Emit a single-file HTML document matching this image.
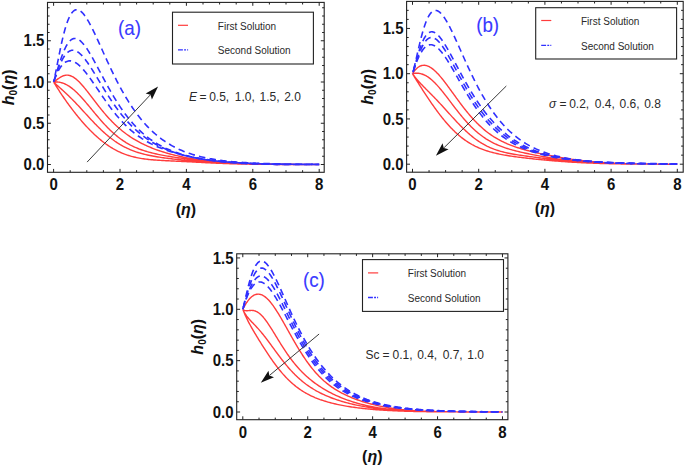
<!DOCTYPE html>
<html><head><meta charset="utf-8"><style>
html,body{margin:0;padding:0;background:#fff;}
svg{display:block;}
text{font-family:"Liberation Sans", sans-serif;}
.tl{font-size:15px;font-weight:bold;fill:#111;}
.al{font-size:16px;font-weight:bold;fill:#111;}
.pl{font-size:18.8px;fill:#3a3aff;stroke:#3a3aff;stroke-width:0.1px;}
.lg{font-size:10px;fill:#2a2a2a;}
.nt{font-size:12px;fill:#2a2a2a;}
</style></head><body>
<svg width="685" height="467" viewBox="0 0 685 467">
<rect x="47.5" y="2.4" width="276.70" height="169.90" fill="none" stroke="#222" stroke-width="1.1"/>
<path d="M53.60,172.3v-3.4M53.60,2.4v3.4M70.20,172.3v-2.1M70.20,2.4v2.1M86.80,172.3v-2.1M86.80,2.4v2.1M103.40,172.3v-2.1M103.40,2.4v2.1M120.00,172.3v-3.4M120.00,2.4v3.4M136.60,172.3v-2.1M136.60,2.4v2.1M153.20,172.3v-2.1M153.20,2.4v2.1M169.80,172.3v-2.1M169.80,2.4v2.1M186.40,172.3v-3.4M186.40,2.4v3.4M203.00,172.3v-2.1M203.00,2.4v2.1M219.60,172.3v-2.1M219.60,2.4v2.1M236.20,172.3v-2.1M236.20,2.4v2.1M252.80,172.3v-3.4M252.80,2.4v3.4M269.40,172.3v-2.1M269.40,2.4v2.1M286.00,172.3v-2.1M286.00,2.4v2.1M302.60,172.3v-2.1M302.60,2.4v2.1M319.20,172.3v-3.4M319.20,2.4v3.4M47.5,164.50h3.4M324.2,164.50h-3.4M47.5,156.25h2.1M324.2,156.25h-2.1M47.5,148.00h2.1M324.2,148.00h-2.1M47.5,139.75h2.1M324.2,139.75h-2.1M47.5,131.50h2.1M324.2,131.50h-2.1M47.5,123.25h3.4M324.2,123.25h-3.4M47.5,115.00h2.1M324.2,115.00h-2.1M47.5,106.75h2.1M324.2,106.75h-2.1M47.5,98.50h2.1M324.2,98.50h-2.1M47.5,90.25h2.1M324.2,90.25h-2.1M47.5,82.00h3.4M324.2,82.00h-3.4M47.5,73.75h2.1M324.2,73.75h-2.1M47.5,65.50h2.1M324.2,65.50h-2.1M47.5,57.25h2.1M324.2,57.25h-2.1M47.5,49.00h2.1M324.2,49.00h-2.1M47.5,40.75h3.4M324.2,40.75h-3.4M47.5,32.50h2.1M324.2,32.50h-2.1M47.5,24.25h2.1M324.2,24.25h-2.1M47.5,16.00h2.1M324.2,16.00h-2.1M47.5,7.75h2.1M324.2,7.75h-2.1" stroke="#222" stroke-width="1" fill="none"/>
<text transform="translate(53.60,190.30) scale(1,1.05)" text-anchor="middle" class="tl">0</text>
<text transform="translate(120.00,190.30) scale(1,1.05)" text-anchor="middle" class="tl">2</text>
<text transform="translate(186.40,190.30) scale(1,1.05)" text-anchor="middle" class="tl">4</text>
<text transform="translate(252.80,190.30) scale(1,1.05)" text-anchor="middle" class="tl">6</text>
<text transform="translate(319.20,190.30) scale(1,1.05)" text-anchor="middle" class="tl">8</text>
<text transform="translate(44.40,170.10) scale(1,1.05)" text-anchor="end" class="tl">0.0</text>
<text transform="translate(44.40,128.85) scale(1,1.05)" text-anchor="end" class="tl">0.5</text>
<text transform="translate(44.40,87.60) scale(1,1.05)" text-anchor="end" class="tl">1.0</text>
<text transform="translate(44.40,46.35) scale(1,1.05)" text-anchor="end" class="tl">1.5</text>
<clipPath id="clipa"><rect x="47.5" y="2.4" width="276.7" height="169.9"/></clipPath>
<g clip-path="url(#clipa)" fill="none">
<path d="M53.60,82.00L54.27,81.59L54.94,81.15L55.61,80.67L56.28,80.18L56.95,79.68L57.62,79.18L58.29,78.69L58.97,78.21L59.64,77.76L60.31,77.33L60.98,76.93L61.65,76.57L62.32,76.24L62.99,75.95L63.66,75.71L64.33,75.50L65.00,75.35L65.67,75.23L66.34,75.17L67.01,75.15L67.68,75.17L68.36,75.25L69.03,75.36L69.70,75.53L70.37,75.73L71.04,75.98L71.71,76.27L72.38,76.60L73.05,76.97L73.72,77.38L74.39,77.83L75.06,78.31L75.73,78.82L76.40,79.37L77.07,79.94L77.75,80.55L78.42,81.18L79.09,81.83L79.76,82.52L80.43,83.22L81.10,83.94L81.77,84.69L82.44,85.45L83.11,86.23L83.78,87.02L84.45,87.83L85.12,88.65L85.79,89.48L86.46,90.32L87.14,91.17L87.81,92.03L88.48,92.89L89.15,93.76L89.82,94.64L90.49,95.51L91.16,96.39L91.83,97.27L92.50,98.15L93.17,99.03L93.84,99.91L94.51,100.79L95.18,101.67L95.85,102.54L96.53,103.41L97.20,104.27L97.87,105.13L98.54,105.99L99.21,106.84L99.88,107.68L100.55,108.52L101.22,109.35L101.89,110.17L102.56,110.99L103.23,111.79L103.90,112.59L104.57,113.38L105.24,114.16L105.92,114.94L106.59,115.70L107.26,116.46L107.93,117.20L108.60,117.94L109.27,118.67L109.94,119.38L110.61,120.09L111.28,120.79L111.95,121.48L112.62,122.16L113.29,122.83L113.96,123.49L114.63,124.14L115.31,124.78L115.98,125.41L116.65,126.04L117.32,126.65L117.99,127.25L118.66,127.85L119.33,128.43L120.00,129.01L120.66,129.57L122.00,130.67L123.33,131.73L124.66,132.77L125.99,133.77L127.33,134.73L128.66,135.67L129.99,136.58L131.32,137.46L132.66,138.31L133.99,139.13L135.32,139.93L136.65,140.70L137.99,141.45L139.32,142.17L140.65,142.87L141.98,143.55L143.32,144.21L144.65,144.85L145.98,145.47L147.31,146.07L148.65,146.65L149.98,147.22L151.31,147.77L152.64,148.30L153.98,148.82L155.31,149.32L156.64,149.80L157.97,150.28L159.31,150.73L160.64,151.18L161.97,151.61L163.30,152.03L164.64,152.44L165.97,152.84L167.30,153.22L168.63,153.60L169.96,153.96L171.30,154.31L172.63,154.66L173.96,154.99L175.29,155.31L176.63,155.63L177.96,155.93L179.29,156.23L180.62,156.52L181.96,156.80L183.29,157.07L184.62,157.33L185.95,157.58L187.29,157.83L188.62,158.07L189.95,158.31L191.28,158.53L192.62,158.75L193.95,158.96L195.28,159.17L196.61,159.37L197.95,159.56L199.28,159.75L200.61,159.93L201.94,160.10L203.28,160.27L204.61,160.43L205.94,160.59L207.27,160.75L208.61,160.89L209.94,161.04L211.27,161.18L212.60,161.31L213.94,161.44L215.27,161.56L216.60,161.68L217.93,161.80L219.27,161.91L220.60,162.02L221.93,162.12L223.26,162.22L224.60,162.32L225.93,162.41L227.26,162.50L228.59,162.58L229.93,162.67L231.26,162.75L232.59,162.82L233.92,162.90L235.26,162.97L236.59,163.03L237.92,163.10L239.25,163.16L240.59,163.22L241.92,163.28L243.25,163.33L244.58,163.39L245.91,163.44L247.25,163.49L248.58,163.53L249.91,163.58L251.24,163.62L252.58,163.66L253.91,163.70L255.24,163.74L256.57,163.78L257.91,163.81L259.24,163.84L260.57,163.87L261.90,163.91L263.24,163.93L264.57,163.96L265.90,163.99L267.23,164.01L268.57,164.04L269.90,164.06L271.23,164.08L272.56,164.10L273.90,164.12L275.23,164.14L276.56,164.16L277.89,164.18L279.23,164.19L280.56,164.21L281.89,164.22L283.22,164.24L284.56,164.25L285.89,164.26L287.22,164.28L288.55,164.29L289.89,164.30L291.22,164.31L292.55,164.32L293.88,164.33L295.22,164.34L296.55,164.35L297.88,164.35L299.21,164.36L300.55,164.37L301.88,164.38L303.21,164.38L304.54,164.39L305.88,164.40L307.21,164.40L308.54,164.41L309.87,164.41L311.21,164.42L312.54,164.42L313.87,164.43L315.20,164.43L316.54,164.43L317.87,164.44L319.20,164.44M53.60,82.00L54.27,81.96L54.94,81.94L55.61,81.93L56.28,81.94L56.95,81.97L57.62,82.02L58.29,82.09L58.97,82.18L59.64,82.29L60.31,82.43L60.98,82.58L61.65,82.76L62.32,82.96L62.99,83.18L63.66,83.43L64.33,83.69L65.00,83.99L65.67,84.30L66.34,84.64L67.01,85.00L67.68,85.38L68.36,85.78L69.03,86.21L69.70,86.65L70.37,87.12L71.04,87.61L71.71,88.12L72.38,88.65L73.05,89.19L73.72,89.76L74.39,90.34L75.06,90.94L75.73,91.56L76.40,92.19L77.07,92.84L77.75,93.51L78.42,94.18L79.09,94.87L79.76,95.58L80.43,96.29L81.10,97.02L81.77,97.76L82.44,98.50L83.11,99.26L83.78,100.02L84.45,100.79L85.12,101.57L85.79,102.36L86.46,103.15L87.14,103.94L87.81,104.74L88.48,105.55L89.15,106.35L89.82,107.16L90.49,107.97L91.16,108.78L91.83,109.59L92.50,110.40L93.17,111.21L93.84,112.02L94.51,112.83L95.18,113.63L95.85,114.44L96.53,115.23L97.20,116.03L97.87,116.82L98.54,117.60L99.21,118.38L99.88,119.16L100.55,119.93L101.22,120.69L101.89,121.45L102.56,122.19L103.23,122.94L103.90,123.67L104.57,124.39L105.24,125.11L105.92,125.82L106.59,126.52L107.26,127.21L107.93,127.89L108.60,128.57L109.27,129.23L109.94,129.88L110.61,130.53L111.28,131.16L111.95,131.79L112.62,132.40L113.29,133.00L113.96,133.60L114.63,134.18L115.31,134.75L115.98,135.32L116.65,135.87L117.32,136.41L117.99,136.95L118.66,137.47L119.33,137.98L120.00,138.48L120.66,138.97L122.00,139.92L123.33,140.82L124.66,141.69L125.99,142.53L127.33,143.32L128.66,144.08L129.99,144.81L131.32,145.50L132.66,146.16L133.99,146.79L135.32,147.40L136.65,147.97L137.99,148.51L139.32,149.03L140.65,149.53L141.98,150.00L143.32,150.45L144.65,150.88L145.98,151.29L147.31,151.69L148.65,152.06L149.98,152.42L151.31,152.77L152.64,153.10L153.98,153.42L155.31,153.72L156.64,154.02L157.97,154.31L159.31,154.58L160.64,154.85L161.97,155.11L163.30,155.36L164.64,155.60L165.97,155.84L167.30,156.08L168.63,156.30L169.96,156.52L171.30,156.74L172.63,156.95L173.96,157.16L175.29,157.37L176.63,157.57L177.96,157.77L179.29,157.96L180.62,158.15L181.96,158.34L183.29,158.52L184.62,158.71L185.95,158.89L187.29,159.06L188.62,159.23L189.95,159.40L191.28,159.57L192.62,159.74L193.95,159.90L195.28,160.06L196.61,160.21L197.95,160.37L199.28,160.51L200.61,160.66L201.94,160.81L203.28,160.95L204.61,161.08L205.94,161.22L207.27,161.35L208.61,161.47L209.94,161.60L211.27,161.72L212.60,161.84L213.94,161.95L215.27,162.06L216.60,162.17L217.93,162.28L219.27,162.38L220.60,162.47L221.93,162.57L223.26,162.66L224.60,162.75L225.93,162.83L227.26,162.92L228.59,163.00L229.93,163.07L231.26,163.15L232.59,163.22L233.92,163.28L235.26,163.35L236.59,163.41L237.92,163.47L239.25,163.53L240.59,163.58L241.92,163.63L243.25,163.68L244.58,163.73L245.91,163.77L247.25,163.82L248.58,163.86L249.91,163.90L251.24,163.93L252.58,163.97L253.91,164.00L255.24,164.03L256.57,164.06L257.91,164.09L259.24,164.12L260.57,164.14L261.90,164.16L263.24,164.19L264.57,164.21L265.90,164.23L267.23,164.25L268.57,164.26L269.90,164.28L271.23,164.29L272.56,164.31L273.90,164.32L275.23,164.33L276.56,164.35L277.89,164.36L279.23,164.37L280.56,164.38L281.89,164.39L283.22,164.40L284.56,164.40L285.89,164.41L287.22,164.42L288.55,164.42L289.89,164.43L291.22,164.44L292.55,164.44L293.88,164.44L295.22,164.45L296.55,164.45L297.88,164.46L299.21,164.46L300.55,164.46L301.88,164.47L303.21,164.47L304.54,164.47L305.88,164.47L307.21,164.48L308.54,164.48L309.87,164.48L311.21,164.48L312.54,164.48L313.87,164.49L315.20,164.49L316.54,164.49L317.87,164.49L319.20,164.49M53.60,82.00L54.27,82.65L54.94,83.29L55.61,83.91L56.28,84.54L56.95,85.15L57.62,85.76L58.29,86.37L58.97,86.97L59.64,87.57L60.31,88.18L60.98,88.78L61.65,89.38L62.32,89.99L62.99,90.59L63.66,91.20L64.33,91.82L65.00,92.44L65.67,93.06L66.34,93.68L67.01,94.31L67.68,94.95L68.36,95.59L69.03,96.24L69.70,96.89L70.37,97.55L71.04,98.21L71.71,98.88L72.38,99.56L73.05,100.24L73.72,100.92L74.39,101.61L75.06,102.30L75.73,103.00L76.40,103.71L77.07,104.41L77.75,105.13L78.42,105.84L79.09,106.56L79.76,107.28L80.43,108.01L81.10,108.73L81.77,109.46L82.44,110.19L83.11,110.92L83.78,111.66L84.45,112.39L85.12,113.12L85.79,113.85L86.46,114.59L87.14,115.32L87.81,116.05L88.48,116.78L89.15,117.51L89.82,118.23L90.49,118.95L91.16,119.67L91.83,120.39L92.50,121.10L93.17,121.81L93.84,122.51L94.51,123.21L95.18,123.91L95.85,124.60L96.53,125.28L97.20,125.96L97.87,126.63L98.54,127.30L99.21,127.96L99.88,128.62L100.55,129.26L101.22,129.90L101.89,130.53L102.56,131.16L103.23,131.78L103.90,132.39L104.57,132.99L105.24,133.58L105.92,134.17L106.59,134.75L107.26,135.32L107.93,135.88L108.60,136.43L109.27,136.97L109.94,137.51L110.61,138.03L111.28,138.55L111.95,139.06L112.62,139.56L113.29,140.05L113.96,140.53L114.63,141.01L115.31,141.47L115.98,141.93L116.65,142.37L117.32,142.81L117.99,143.24L118.66,143.66L119.33,144.07L120.00,144.48L120.66,144.87L122.00,145.63L123.33,146.36L124.66,147.05L125.99,147.72L127.33,148.36L128.66,148.96L129.99,149.54L131.32,150.09L132.66,150.62L133.99,151.12L135.32,151.59L136.65,152.04L137.99,152.47L139.32,152.88L140.65,153.27L141.98,153.64L143.32,154.00L144.65,154.33L145.98,154.65L147.31,154.96L148.65,155.25L149.98,155.53L151.31,155.79L152.64,156.05L153.98,156.29L155.31,156.53L156.64,156.75L157.97,156.97L159.31,157.18L160.64,157.38L161.97,157.57L163.30,157.76L164.64,157.95L165.97,158.12L167.30,158.30L168.63,158.46L169.96,158.63L171.30,158.79L172.63,158.94L173.96,159.09L175.29,159.24L176.63,159.39L177.96,159.53L179.29,159.67L180.62,159.81L181.96,159.95L183.29,160.08L184.62,160.21L185.95,160.34L187.29,160.47L188.62,160.59L189.95,160.72L191.28,160.84L192.62,160.96L193.95,161.07L195.28,161.19L196.61,161.30L197.95,161.41L199.28,161.52L200.61,161.62L201.94,161.73L203.28,161.83L204.61,161.93L205.94,162.02L207.27,162.12L208.61,162.21L209.94,162.30L211.27,162.39L212.60,162.48L213.94,162.56L215.27,162.64L216.60,162.72L217.93,162.80L219.27,162.87L220.60,162.94L221.93,163.01L223.26,163.08L224.60,163.15L225.93,163.21L227.26,163.27L228.59,163.33L229.93,163.39L231.26,163.44L232.59,163.49L233.92,163.54L235.26,163.59L236.59,163.64L237.92,163.68L239.25,163.73L240.59,163.77L241.92,163.81L243.25,163.85L244.58,163.88L245.91,163.92L247.25,163.95L248.58,163.98L249.91,164.01L251.24,164.04L252.58,164.07L253.91,164.09L255.24,164.12L256.57,164.14L257.91,164.16L259.24,164.18L260.57,164.20L261.90,164.22L263.24,164.24L264.57,164.26L265.90,164.27L267.23,164.29L268.57,164.30L269.90,164.31L271.23,164.33L272.56,164.34L273.90,164.35L275.23,164.36L276.56,164.37L277.89,164.38L279.23,164.39L280.56,164.39L281.89,164.40L283.22,164.41L284.56,164.42L285.89,164.42L287.22,164.43L288.55,164.43L289.89,164.44L291.22,164.44L292.55,164.45L293.88,164.45L295.22,164.45L296.55,164.46L297.88,164.46L299.21,164.46L300.55,164.47L301.88,164.47L303.21,164.47L304.54,164.47L305.88,164.48L307.21,164.48L308.54,164.48L309.87,164.48L311.21,164.48L312.54,164.48L313.87,164.49L315.20,164.49L316.54,164.49L317.87,164.49L319.20,164.49M53.60,82.00L54.27,83.09L54.94,84.17L55.61,85.24L56.28,86.31L56.95,87.36L57.62,88.41L58.29,89.45L58.97,90.49L59.64,91.51L60.31,92.53L60.98,93.54L61.65,94.54L62.32,95.54L62.99,96.52L63.66,97.50L64.33,98.48L65.00,99.44L65.67,100.40L66.34,101.35L67.01,102.29L67.68,103.22L68.36,104.15L69.03,105.07L69.70,105.99L70.37,106.89L71.04,107.79L71.71,108.68L72.38,109.56L73.05,110.44L73.72,111.31L74.39,112.17L75.06,113.03L75.73,113.87L76.40,114.71L77.07,115.55L77.75,116.37L78.42,117.19L79.09,118.00L79.76,118.80L80.43,119.60L81.10,120.39L81.77,121.17L82.44,121.94L83.11,122.71L83.78,123.47L84.45,124.22L85.12,124.96L85.79,125.70L86.46,126.42L87.14,127.14L87.81,127.86L88.48,128.56L89.15,129.26L89.82,129.95L90.49,130.63L91.16,131.30L91.83,131.96L92.50,132.62L93.17,133.27L93.84,133.91L94.51,134.54L95.18,135.16L95.85,135.78L96.53,136.39L97.20,136.98L97.87,137.57L98.54,138.16L99.21,138.73L99.88,139.29L100.55,139.85L101.22,140.40L101.89,140.93L102.56,141.46L103.23,141.98L103.90,142.50L104.57,143.00L105.24,143.50L105.92,143.98L106.59,144.46L107.26,144.93L107.93,145.39L108.60,145.84L109.27,146.28L109.94,146.72L110.61,147.14L111.28,147.56L111.95,147.97L112.62,148.37L113.29,148.76L113.96,149.14L114.63,149.51L115.31,149.88L115.98,150.24L116.65,150.58L117.32,150.93L117.99,151.26L118.66,151.58L119.33,151.90L120.00,152.21L120.66,152.51L122.00,153.08L123.33,153.62L124.66,154.14L125.99,154.62L127.33,155.08L128.66,155.51L129.99,155.92L131.32,156.30L132.66,156.66L133.99,156.99L135.32,157.30L136.65,157.59L137.99,157.87L139.32,158.12L140.65,158.35L141.98,158.57L143.32,158.77L144.65,158.96L145.98,159.13L147.31,159.29L148.65,159.44L149.98,159.58L151.31,159.70L152.64,159.82L153.98,159.93L155.31,160.03L156.64,160.13L157.97,160.22L159.31,160.31L160.64,160.39L161.97,160.46L163.30,160.54L164.64,160.61L165.97,160.68L167.30,160.74L168.63,160.81L169.96,160.87L171.30,160.94L172.63,161.00L173.96,161.06L175.29,161.12L176.63,161.19L177.96,161.25L179.29,161.31L180.62,161.38L181.96,161.44L183.29,161.51L184.62,161.57L185.95,161.64L187.29,161.71L188.62,161.78L189.95,161.84L191.28,161.91L192.62,161.98L193.95,162.05L195.28,162.12L196.61,162.19L197.95,162.26L199.28,162.33L200.61,162.40L201.94,162.47L203.28,162.54L204.61,162.61L205.94,162.68L207.27,162.75L208.61,162.81L209.94,162.88L211.27,162.94L212.60,163.01L213.94,163.07L215.27,163.13L216.60,163.19L217.93,163.25L219.27,163.31L220.60,163.36L221.93,163.42L223.26,163.47L224.60,163.52L225.93,163.57L227.26,163.62L228.59,163.66L229.93,163.71L231.26,163.75L232.59,163.79L233.92,163.83L235.26,163.87L236.59,163.91L237.92,163.94L239.25,163.98L240.59,164.01L241.92,164.04L243.25,164.07L244.58,164.09L245.91,164.12L247.25,164.15L248.58,164.17L249.91,164.19L251.24,164.21L252.58,164.23L253.91,164.25L255.24,164.27L256.57,164.28L257.91,164.30L259.24,164.31L260.57,164.33L261.90,164.34L263.24,164.35L264.57,164.36L265.90,164.37L267.23,164.38L268.57,164.39L269.90,164.40L271.23,164.41L272.56,164.42L273.90,164.42L275.23,164.43L276.56,164.44L277.89,164.44L279.23,164.45L280.56,164.45L281.89,164.46L283.22,164.46L284.56,164.46L285.89,164.47L287.22,164.47L288.55,164.47L289.89,164.47L291.22,164.48L292.55,164.48L293.88,164.48L295.22,164.48L296.55,164.48L297.88,164.49L299.21,164.49L300.55,164.49L301.88,164.49L303.21,164.49L304.54,164.49L305.88,164.49L307.21,164.49L308.54,164.49L309.87,164.49L311.21,164.50L312.54,164.50L313.87,164.50L315.20,164.50L316.54,164.50L317.87,164.50L319.20,164.50" stroke="#ff3c3c" stroke-width="1.4"/>
<path d="M53.60,82.00L54.27,79.06L54.94,75.93L55.61,72.67L56.28,69.31L56.95,65.89L57.62,62.46L58.29,59.03L58.97,55.63L59.64,52.29L60.31,49.02L60.98,45.84L61.65,42.77L62.32,39.81L62.99,36.97L63.66,34.26L64.33,31.69L65.00,29.26L65.67,26.98L66.34,24.85L67.01,22.86L67.68,21.02L68.36,19.33L69.03,17.79L69.70,16.39L70.37,15.14L71.04,14.02L71.71,13.05L72.38,12.20L73.05,11.49L73.72,10.90L74.39,10.44L75.06,10.09L75.73,9.86L76.40,9.73L77.07,9.71L77.75,9.79L78.42,9.97L79.09,10.24L79.76,10.60L80.43,11.04L81.10,11.56L81.77,12.16L82.44,12.83L83.11,13.57L83.78,14.37L84.45,15.23L85.12,16.14L85.79,17.11L86.46,18.13L87.14,19.20L87.81,20.31L88.48,21.46L89.15,22.65L89.82,23.87L90.49,25.13L91.16,26.41L91.83,27.72L92.50,29.06L93.17,30.42L93.84,31.80L94.51,33.20L95.18,34.61L95.85,36.04L96.53,37.48L97.20,38.93L97.87,40.39L98.54,41.85L99.21,43.33L99.88,44.81L100.55,46.29L101.22,47.77L101.89,49.26L102.56,50.74L103.23,52.23L103.90,53.71L104.57,55.19L105.24,56.67L105.92,58.14L106.59,59.60L107.26,61.06L107.93,62.51L108.60,63.96L109.27,65.39L109.94,66.82L110.61,68.24L111.28,69.65L111.95,71.05L112.62,72.44L113.29,73.81L113.96,75.18L114.63,76.53L115.31,77.88L115.98,79.21L116.65,80.52L117.32,81.83L117.99,83.12L118.66,84.40L119.33,85.67L120.00,86.92L120.66,88.14L122.00,90.57L123.33,92.93L124.66,95.24L125.99,97.50L127.33,99.70L128.66,101.85L129.99,103.94L131.32,105.97L132.66,107.95L133.99,109.88L135.32,111.75L136.65,113.57L137.99,115.34L139.32,117.06L140.65,118.72L141.98,120.34L143.32,121.91L144.65,123.43L145.98,124.91L147.31,126.33L148.65,127.72L149.98,129.06L151.31,130.35L152.64,131.61L153.98,132.82L155.31,134.00L156.64,135.13L157.97,136.23L159.31,137.29L160.64,138.31L161.97,139.30L163.30,140.26L164.64,141.18L165.97,142.07L167.30,142.93L168.63,143.76L169.96,144.56L171.30,145.34L172.63,146.08L173.96,146.80L175.29,147.49L176.63,148.16L177.96,148.80L179.29,149.42L180.62,150.01L181.96,150.59L183.29,151.14L184.62,151.67L185.95,152.18L187.29,152.68L188.62,153.15L189.95,153.61L191.28,154.05L192.62,154.47L193.95,154.87L195.28,155.26L196.61,155.64L197.95,156.00L199.28,156.35L200.61,156.68L201.94,157.00L203.28,157.31L204.61,157.60L205.94,157.89L207.27,158.16L208.61,158.42L209.94,158.67L211.27,158.91L212.60,159.14L213.94,159.37L215.27,159.58L216.60,159.78L217.93,159.98L219.27,160.17L220.60,160.35L221.93,160.52L223.26,160.69L224.60,160.85L225.93,161.00L227.26,161.15L228.59,161.29L229.93,161.42L231.26,161.55L232.59,161.68L233.92,161.79L235.26,161.91L236.59,162.02L237.92,162.12L239.25,162.22L240.59,162.32L241.92,162.41L243.25,162.50L244.58,162.58L245.91,162.67L247.25,162.74L248.58,162.82L249.91,162.89L251.24,162.96L252.58,163.02L253.91,163.08L255.24,163.14L256.57,163.20L257.91,163.26L259.24,163.31L260.57,163.36L261.90,163.41L263.24,163.45L264.57,163.50L265.90,163.54L267.23,163.58L268.57,163.62L269.90,163.66L271.23,163.69L272.56,163.73L273.90,163.76L275.23,163.79L276.56,163.82L277.89,163.85L279.23,163.88L280.56,163.90L281.89,163.93L283.22,163.95L284.56,163.98L285.89,164.00L287.22,164.02L288.55,164.04L289.89,164.06L291.22,164.08L292.55,164.10L293.88,164.11L295.22,164.13L296.55,164.15L297.88,164.16L299.21,164.17L300.55,164.19L301.88,164.20L303.21,164.21L304.54,164.23L305.88,164.24L307.21,164.25L308.54,164.26L309.87,164.27L311.21,164.28L312.54,164.29L313.87,164.30L315.20,164.30L316.54,164.31L317.87,164.32L319.20,164.33" stroke="#3030ff" stroke-width="1.6" stroke-dasharray="6.5,4.3" stroke-dashoffset="4.36"/>
<path d="M53.60,82.00L54.27,80.02L54.94,77.95L55.61,75.81L56.28,73.63L56.95,71.43L57.62,69.23L58.29,67.05L58.97,64.90L59.64,62.79L60.31,60.74L60.98,58.75L61.65,56.83L62.32,55.00L62.99,53.25L63.66,51.60L64.33,50.03L65.00,48.57L65.67,47.20L66.34,45.94L67.01,44.78L67.68,43.72L68.36,42.76L69.03,41.90L69.70,41.15L70.37,40.49L71.04,39.93L71.71,39.46L72.38,39.09L73.05,38.81L73.72,38.62L74.39,38.51L75.06,38.49L75.73,38.55L76.40,38.68L77.07,38.89L77.75,39.18L78.42,39.53L79.09,39.94L79.76,40.42L80.43,40.96L81.10,41.56L81.77,42.21L82.44,42.92L83.11,43.67L83.78,44.47L84.45,45.31L85.12,46.19L85.79,47.11L86.46,48.07L87.14,49.06L87.81,50.08L88.48,51.14L89.15,52.21L89.82,53.31L90.49,54.44L91.16,55.59L91.83,56.75L92.50,57.93L93.17,59.13L93.84,60.34L94.51,61.56L95.18,62.79L95.85,64.03L96.53,65.28L97.20,66.54L97.87,67.79L98.54,69.06L99.21,70.32L99.88,71.59L100.55,72.86L101.22,74.12L101.89,75.39L102.56,76.65L103.23,77.91L103.90,79.16L104.57,80.41L105.24,81.66L105.92,82.89L106.59,84.12L107.26,85.35L107.93,86.56L108.60,87.77L109.27,88.96L109.94,90.15L110.61,91.33L111.28,92.49L111.95,93.65L112.62,94.79L113.29,95.93L113.96,97.05L114.63,98.16L115.31,99.26L115.98,100.34L116.65,101.42L117.32,102.48L117.99,103.53L118.66,104.56L119.33,105.59L120.00,106.60L120.66,107.58L122.00,109.52L123.33,111.41L124.66,113.25L125.99,115.03L127.33,116.77L128.66,118.45L129.99,120.08L131.32,121.66L132.66,123.19L133.99,124.67L135.32,126.11L136.65,127.50L137.99,128.84L139.32,130.14L140.65,131.39L141.98,132.60L143.32,133.77L144.65,134.90L145.98,135.99L147.31,137.04L148.65,138.06L149.98,139.04L151.31,139.98L152.64,140.89L153.98,141.77L155.31,142.61L156.64,143.43L157.97,144.22L159.31,144.97L160.64,145.70L161.97,146.40L163.30,147.08L164.64,147.73L165.97,148.36L167.30,148.97L168.63,149.55L169.96,150.11L171.30,150.65L172.63,151.17L173.96,151.67L175.29,152.15L176.63,152.62L177.96,153.06L179.29,153.49L180.62,153.91L181.96,154.31L183.29,154.69L184.62,155.06L185.95,155.42L187.29,155.76L188.62,156.09L189.95,156.41L191.28,156.72L192.62,157.02L193.95,157.30L195.28,157.58L196.61,157.84L197.95,158.10L199.28,158.34L200.61,158.58L201.94,158.81L203.28,159.03L204.61,159.24L205.94,159.45L207.27,159.64L208.61,159.83L209.94,160.02L211.27,160.20L212.60,160.37L213.94,160.53L215.27,160.69L216.60,160.85L217.93,161.00L219.27,161.14L220.60,161.28L221.93,161.41L223.26,161.54L224.60,161.67L225.93,161.79L227.26,161.90L228.59,162.02L229.93,162.13L231.26,162.23L232.59,162.33L233.92,162.43L235.26,162.53L236.59,162.62L237.92,162.71L239.25,162.80L240.59,162.88L241.92,162.96L243.25,163.04L244.58,163.11L245.91,163.19L247.25,163.26L248.58,163.33L249.91,163.39L251.24,163.46L252.58,163.52L253.91,163.58L255.24,163.64L256.57,163.70L257.91,163.75L259.24,163.80L260.57,163.85L261.90,163.90L263.24,163.95L264.57,164.00L265.90,164.04L267.23,164.09L268.57,164.13L269.90,164.17L271.23,164.21L272.56,164.24L273.90,164.28L275.23,164.31L276.56,164.34L277.89,164.38L279.23,164.41L280.56,164.43L281.89,164.46L283.22,164.49L284.56,164.50L285.89,164.50L287.22,164.50L288.55,164.50L289.89,164.50L291.22,164.50L292.55,164.50L293.88,164.50L295.22,164.50L296.55,164.50L297.88,164.50L299.21,164.50L300.55,164.50L301.88,164.50L303.21,164.50L304.54,164.50L305.88,164.50L307.21,164.50L308.54,164.50L309.87,164.50L311.21,164.50L312.54,164.50L313.87,164.50L315.20,164.50L316.54,164.50L317.87,164.50L319.20,164.48" stroke="#3030ff" stroke-width="1.6" stroke-dasharray="6.5,4.3" stroke-dashoffset="9.66"/>
<path d="M53.60,82.00L54.27,79.94L54.94,77.91L55.61,75.91L56.28,73.97L56.95,72.08L57.62,70.26L58.29,68.50L58.97,66.81L59.64,65.20L60.31,63.66L60.98,62.20L61.65,60.83L62.32,59.54L62.99,58.34L63.66,57.22L64.33,56.19L65.00,55.24L65.67,54.38L66.34,53.61L67.01,52.91L67.68,52.31L68.36,51.78L69.03,51.33L69.70,50.96L70.37,50.67L71.04,50.45L71.71,50.31L72.38,50.24L73.05,50.23L73.72,50.30L74.39,50.42L75.06,50.61L75.73,50.86L76.40,51.17L77.07,51.53L77.75,51.95L78.42,52.41L79.09,52.93L79.76,53.49L80.43,54.09L81.10,54.74L81.77,55.42L82.44,56.15L83.11,56.91L83.78,57.70L84.45,58.52L85.12,59.37L85.79,60.25L86.46,61.16L87.14,62.09L87.81,63.04L88.48,64.01L89.15,65.01L89.82,66.01L90.49,67.04L91.16,68.08L91.83,69.13L92.50,70.19L93.17,71.26L93.84,72.34L94.51,73.43L95.18,74.52L95.85,75.62L96.53,76.73L97.20,77.84L97.87,78.94L98.54,80.06L99.21,81.17L99.88,82.28L100.55,83.39L101.22,84.49L101.89,85.60L102.56,86.70L103.23,87.79L103.90,88.89L104.57,89.97L105.24,91.05L105.92,92.13L106.59,93.19L107.26,94.25L107.93,95.31L108.60,96.35L109.27,97.39L109.94,98.41L110.61,99.43L111.28,100.44L111.95,101.44L112.62,102.43L113.29,103.41L113.96,104.37L114.63,105.33L115.31,106.28L115.98,107.22L116.65,108.14L117.32,109.06L117.99,109.96L118.66,110.85L119.33,111.74L120.00,112.61L120.66,113.46L122.00,115.13L123.33,116.76L124.66,118.35L125.99,119.89L127.33,121.38L128.66,122.84L129.99,124.25L131.32,125.61L132.66,126.94L133.99,128.23L135.32,129.47L136.65,130.68L137.99,131.85L139.32,132.98L140.65,134.08L141.98,135.14L143.32,136.16L144.65,137.15L145.98,138.11L147.31,139.04L148.65,139.94L149.98,140.81L151.31,141.64L152.64,142.45L153.98,143.24L155.31,143.99L156.64,144.73L157.97,145.43L159.31,146.12L160.64,146.78L161.97,147.41L163.30,148.03L164.64,148.62L165.97,149.20L167.30,149.75L168.63,150.29L169.96,150.81L171.30,151.31L172.63,151.79L173.96,152.26L175.29,152.71L176.63,153.14L177.96,153.57L179.29,153.97L180.62,154.36L181.96,154.74L183.29,155.11L184.62,155.46L185.95,155.80L187.29,156.13L188.62,156.45L189.95,156.75L191.28,157.05L192.62,157.33L193.95,157.61L195.28,157.87L196.61,158.13L197.95,158.38L199.28,158.62L200.61,158.84L201.94,159.07L203.28,159.28L204.61,159.49L205.94,159.68L207.27,159.88L208.61,160.06L209.94,160.24L211.27,160.41L212.60,160.57L213.94,160.73L215.27,160.89L216.60,161.03L217.93,161.18L219.27,161.31L220.60,161.44L221.93,161.57L223.26,161.69L224.60,161.81L225.93,161.92L227.26,162.03L228.59,162.13L229.93,162.23L231.26,162.33L232.59,162.42L233.92,162.51L235.26,162.60L236.59,162.68L237.92,162.76L239.25,162.83L240.59,162.91L241.92,162.98L243.25,163.04L244.58,163.11L245.91,163.17L247.25,163.23L248.58,163.29L249.91,163.34L251.24,163.39L252.58,163.44L253.91,163.49L255.24,163.54L256.57,163.58L257.91,163.62L259.24,163.66L260.57,163.70L261.90,163.74L263.24,163.77L264.57,163.81L265.90,163.84L267.23,163.87L268.57,163.90L269.90,163.93L271.23,163.95L272.56,163.98L273.90,164.01L275.23,164.03L276.56,164.05L277.89,164.07L279.23,164.09L280.56,164.11L281.89,164.13L283.22,164.15L284.56,164.17L285.89,164.18L287.22,164.20L288.55,164.21L289.89,164.23L291.22,164.24L292.55,164.25L293.88,164.27L295.22,164.28L296.55,164.29L297.88,164.30L299.21,164.31L300.55,164.32L301.88,164.33L303.21,164.34L304.54,164.35L305.88,164.35L307.21,164.36L308.54,164.37L309.87,164.37L311.21,164.38L312.54,164.39L313.87,164.39L315.20,164.40L316.54,164.40L317.87,164.41L319.20,164.41" stroke="#3030ff" stroke-width="1.6" stroke-dasharray="6.5,4.3" stroke-dashoffset="10.33"/>
<path d="M53.60,82.00L54.27,80.11L54.94,78.33L55.61,76.64L56.28,75.05L56.95,73.56L57.62,72.17L58.29,70.86L58.97,69.65L59.64,68.52L60.31,67.48L60.98,66.53L61.65,65.66L62.32,64.86L62.99,64.15L63.66,63.51L64.33,62.94L65.00,62.45L65.67,62.02L66.34,61.67L67.01,61.38L67.68,61.15L68.36,60.99L69.03,60.88L69.70,60.84L70.37,60.85L71.04,60.91L71.71,61.03L72.38,61.20L73.05,61.42L73.72,61.68L74.39,61.99L75.06,62.34L75.73,62.74L76.40,63.17L77.07,63.65L77.75,64.16L78.42,64.70L79.09,65.28L79.76,65.89L80.43,66.53L81.10,67.20L81.77,67.90L82.44,68.63L83.11,69.38L83.78,70.15L84.45,70.94L85.12,71.76L85.79,72.59L86.46,73.44L87.14,74.31L87.81,75.19L88.48,76.09L89.15,77.00L89.82,77.92L90.49,78.86L91.16,79.80L91.83,80.75L92.50,81.71L93.17,82.68L93.84,83.66L94.51,84.63L95.18,85.62L95.85,86.60L96.53,87.59L97.20,88.58L97.87,89.57L98.54,90.56L99.21,91.55L99.88,92.54L100.55,93.53L101.22,94.52L101.89,95.50L102.56,96.48L103.23,97.45L103.90,98.42L104.57,99.39L105.24,100.35L105.92,101.30L106.59,102.25L107.26,103.19L107.93,104.12L108.60,105.04L109.27,105.96L109.94,106.87L110.61,107.77L111.28,108.66L111.95,109.54L112.62,110.42L113.29,111.28L113.96,112.13L114.63,112.98L115.31,113.81L115.98,114.64L116.65,115.45L117.32,116.25L117.99,117.04L118.66,117.83L119.33,118.60L120.00,119.36L120.66,120.10L122.00,121.56L123.33,122.97L124.66,124.34L125.99,125.67L127.33,126.96L128.66,128.21L129.99,129.41L131.32,130.58L132.66,131.70L133.99,132.79L135.32,133.84L136.65,134.85L137.99,135.83L139.32,136.77L140.65,137.68L141.98,138.56L143.32,139.40L144.65,140.22L145.98,141.00L147.31,141.76L148.65,142.50L149.98,143.20L151.31,143.89L152.64,144.54L153.98,145.18L155.31,145.80L156.64,146.39L157.97,146.97L159.31,147.53L160.64,148.07L161.97,148.59L163.30,149.10L164.64,149.59L165.97,150.07L167.30,150.53L168.63,150.98L169.96,151.42L171.30,151.84L172.63,152.26L173.96,152.66L175.29,153.05L176.63,153.44L177.96,153.81L179.29,154.17L180.62,154.52L181.96,154.87L183.29,155.20L184.62,155.53L185.95,155.85L187.29,156.16L188.62,156.46L189.95,156.76L191.28,157.04L192.62,157.32L193.95,157.60L195.28,157.86L196.61,158.12L197.95,158.37L199.28,158.62L200.61,158.86L201.94,159.09L203.28,159.32L204.61,159.54L205.94,159.75L207.27,159.95L208.61,160.15L209.94,160.35L211.27,160.54L212.60,160.72L213.94,160.89L215.27,161.06L216.60,161.23L217.93,161.39L219.27,161.54L220.60,161.69L221.93,161.83L223.26,161.97L224.60,162.10L225.93,162.23L227.26,162.35L228.59,162.47L229.93,162.58L231.26,162.68L232.59,162.79L233.92,162.89L235.26,162.98L236.59,163.07L237.92,163.16L239.25,163.24L240.59,163.32L241.92,163.39L243.25,163.46L244.58,163.53L245.91,163.59L247.25,163.65L248.58,163.71L249.91,163.76L251.24,163.81L252.58,163.86L253.91,163.91L255.24,163.95L256.57,163.99L257.91,164.03L259.24,164.06L260.57,164.10L261.90,164.13L263.24,164.16L264.57,164.19L265.90,164.21L267.23,164.24L268.57,164.26L269.90,164.28L271.23,164.30L272.56,164.32L273.90,164.33L275.23,164.35L276.56,164.36L277.89,164.38L279.23,164.39L280.56,164.40L281.89,164.41L283.22,164.42L284.56,164.43L285.89,164.44L287.22,164.45L288.55,164.45L289.89,164.46L291.22,164.46L292.55,164.47L293.88,164.47L295.22,164.48L296.55,164.48L297.88,164.48L299.21,164.49L300.55,164.49L301.88,164.49L303.21,164.49L304.54,164.50L305.88,164.50L307.21,164.50L308.54,164.50L309.87,164.50L311.21,164.50L312.54,164.50L313.87,164.50L315.20,164.50L316.54,164.50L317.87,164.50L319.20,164.50" stroke="#3030ff" stroke-width="1.6" stroke-dasharray="6.5,4.3" stroke-dashoffset="9.54"/>
</g>
<line x1="87.1" y1="162.1" x2="150.15" y2="95.05" stroke="#3a3a3a" stroke-width="1.0"/>
<path d="M158.1,86.6L151.92,99.45L150.50,94.69L145.65,93.56Z" fill="#111"/>
<text x="185.85" y="215.00" text-anchor="middle" class="al">(<tspan font-style="italic">η</tspan>)</text>
<text transform="translate(13.50,87.35) rotate(-90)" text-anchor="middle" class="al"><tspan font-style="italic">h</tspan><tspan font-size="10" dy="3">0</tspan><tspan dy="-3">(</tspan><tspan font-style="italic">η</tspan>)</text>
<text transform="translate(129.55,35.05) scale(1,1.085)" text-anchor="middle" class="pl">(a)</text>
<rect x="172.5" y="12.2" width="140.90" height="51.80" fill="#fff" stroke="#222" stroke-width="1.1"/>
<line x1="178" y1="25.3" x2="188" y2="25.3" stroke="#ff3c3c" stroke-width="1.2"/>
<path d="M178,49.9h4.9M184.1,49.9h1.9M187.1,49.9h1" stroke="#3030ff" stroke-width="1.3"/>
<text x="217.8" y="29.60" class="lg">First Solution</text>
<text x="217.8" y="54.20" class="lg">Second Solution</text>
<text x="189.1" y="100.5" class="nt" font-style="italic">E</text>
<text x="199.6" y="100.5" class="nt">=</text>
<text x="209.2" y="100.5" class="nt">0.5,</text>
<text x="234.8" y="100.5" class="nt">1.0,</text>
<text x="259.5" y="100.5" class="nt">1.5,</text>
<text x="284.2" y="100.5" class="nt">2.0</text>
<rect x="406.6" y="1.4" width="276.60" height="170.80" fill="none" stroke="#222" stroke-width="1.1"/>
<path d="M412.50,172.2v-3.4M412.50,1.4v3.4M429.05,172.2v-2.1M429.05,1.4v2.1M445.60,172.2v-2.1M445.60,1.4v2.1M462.15,172.2v-2.1M462.15,1.4v2.1M478.70,172.2v-3.4M478.70,1.4v3.4M495.25,172.2v-2.1M495.25,1.4v2.1M511.80,172.2v-2.1M511.80,1.4v2.1M528.35,172.2v-2.1M528.35,1.4v2.1M544.90,172.2v-3.4M544.90,1.4v3.4M561.45,172.2v-2.1M561.45,1.4v2.1M578.00,172.2v-2.1M578.00,1.4v2.1M594.55,172.2v-2.1M594.55,1.4v2.1M611.10,172.2v-3.4M611.10,1.4v3.4M627.65,172.2v-2.1M627.65,1.4v2.1M644.20,172.2v-2.1M644.20,1.4v2.1M660.75,172.2v-2.1M660.75,1.4v2.1M677.30,172.2v-3.4M677.30,1.4v3.4M406.6,164.20h3.4M683.2,164.20h-3.4M406.6,155.15h2.1M683.2,155.15h-2.1M406.6,146.10h2.1M683.2,146.10h-2.1M406.6,137.05h2.1M683.2,137.05h-2.1M406.6,128.00h2.1M683.2,128.00h-2.1M406.6,118.95h3.4M683.2,118.95h-3.4M406.6,109.90h2.1M683.2,109.90h-2.1M406.6,100.85h2.1M683.2,100.85h-2.1M406.6,91.80h2.1M683.2,91.80h-2.1M406.6,82.75h2.1M683.2,82.75h-2.1M406.6,73.70h3.4M683.2,73.70h-3.4M406.6,64.65h2.1M683.2,64.65h-2.1M406.6,55.60h2.1M683.2,55.60h-2.1M406.6,46.55h2.1M683.2,46.55h-2.1M406.6,37.50h2.1M683.2,37.50h-2.1M406.6,28.45h3.4M683.2,28.45h-3.4M406.6,19.40h2.1M683.2,19.40h-2.1M406.6,10.35h2.1M683.2,10.35h-2.1" stroke="#222" stroke-width="1" fill="none"/>
<text transform="translate(412.50,190.20) scale(1,1.05)" text-anchor="middle" class="tl">0</text>
<text transform="translate(478.70,190.20) scale(1,1.05)" text-anchor="middle" class="tl">2</text>
<text transform="translate(544.90,190.20) scale(1,1.05)" text-anchor="middle" class="tl">4</text>
<text transform="translate(611.10,190.20) scale(1,1.05)" text-anchor="middle" class="tl">6</text>
<text transform="translate(677.30,190.20) scale(1,1.05)" text-anchor="middle" class="tl">8</text>
<text transform="translate(403.50,169.80) scale(1,1.05)" text-anchor="end" class="tl">0.0</text>
<text transform="translate(403.50,124.55) scale(1,1.05)" text-anchor="end" class="tl">0.5</text>
<text transform="translate(403.50,79.30) scale(1,1.05)" text-anchor="end" class="tl">1.0</text>
<text transform="translate(403.50,34.05) scale(1,1.05)" text-anchor="end" class="tl">1.5</text>
<clipPath id="clipb"><rect x="406.6" y="1.4" width="276.6" height="170.79999999999998"/></clipPath>
<g clip-path="url(#clipb)" fill="none">
<path d="M412.50,73.70L413.17,72.68L413.84,71.73L414.51,70.85L415.17,70.04L415.84,69.31L416.51,68.64L417.18,68.04L417.85,67.50L418.52,67.02L419.19,66.61L419.86,66.25L420.52,65.96L421.19,65.72L421.86,65.54L422.53,65.40L423.20,65.33L423.87,65.30L424.54,65.32L425.21,65.39L425.87,65.51L426.54,65.67L427.21,65.87L427.88,66.12L428.55,66.40L429.22,66.73L429.89,67.09L430.55,67.48L431.22,67.92L431.89,68.38L432.56,68.88L433.23,69.41L433.90,69.97L434.57,70.55L435.24,71.16L435.90,71.80L436.57,72.46L437.24,73.15L437.91,73.85L438.58,74.58L439.25,75.32L439.92,76.09L440.58,76.87L441.25,77.67L441.92,78.48L442.59,79.31L443.26,80.15L443.93,81.00L444.60,81.86L445.27,82.73L445.93,83.62L446.60,84.51L447.27,85.40L447.94,86.31L448.61,87.21L449.28,88.13L449.95,89.05L450.62,89.97L451.28,90.89L451.95,91.82L452.62,92.74L453.29,93.67L453.96,94.60L454.63,95.52L455.30,96.45L455.96,97.37L456.63,98.29L457.30,99.21L457.97,100.12L458.64,101.03L459.31,101.93L459.98,102.83L460.65,103.73L461.31,104.62L461.98,105.50L462.65,106.37L463.32,107.24L463.99,108.10L464.66,108.96L465.33,109.80L465.99,110.64L466.66,111.47L467.33,112.29L468.00,113.10L468.67,113.90L469.34,114.69L470.01,115.48L470.68,116.25L471.34,117.01L472.01,117.77L472.68,118.51L473.35,119.24L474.02,119.97L474.69,120.68L475.36,121.38L476.03,122.08L476.69,122.76L477.36,123.43L478.03,124.09L478.70,124.74L479.36,125.37L480.69,126.61L482.02,127.81L483.35,128.97L484.68,130.09L486.00,131.17L487.33,132.21L488.66,133.21L489.99,134.17L491.32,135.10L492.65,135.99L493.97,136.85L495.30,137.67L496.63,138.46L497.96,139.23L499.29,139.96L500.62,140.66L501.95,141.34L503.27,141.99L504.60,142.61L505.93,143.21L507.26,143.79L508.59,144.35L509.92,144.88L511.24,145.40L512.57,145.90L513.90,146.38L515.23,146.84L516.56,147.29L517.89,147.73L519.22,148.15L520.54,148.56L521.87,148.96L523.20,149.35L524.53,149.72L525.86,150.09L527.19,150.45L528.51,150.79L529.84,151.13L531.17,151.47L532.50,151.79L533.83,152.11L535.16,152.42L536.49,152.73L537.81,153.03L539.14,153.33L540.47,153.62L541.80,153.91L543.13,154.19L544.46,154.46L545.78,154.73L547.11,155.00L548.44,155.27L549.77,155.53L551.10,155.78L552.43,156.03L553.75,156.28L555.08,156.52L556.41,156.76L557.74,157.00L559.07,157.23L560.40,157.46L561.73,157.68L563.05,157.90L564.38,158.11L565.71,158.33L567.04,158.53L568.37,158.74L569.70,158.93L571.02,159.13L572.35,159.32L573.68,159.51L575.01,159.69L576.34,159.86L577.67,160.04L579.00,160.21L580.32,160.37L581.65,160.53L582.98,160.69L584.31,160.84L585.64,160.98L586.97,161.13L588.29,161.26L589.62,161.40L590.95,161.53L592.28,161.65L593.61,161.77L594.94,161.89L596.26,162.00L597.59,162.11L598.92,162.22L600.25,162.32L601.58,162.42L602.91,162.51L604.24,162.60L605.56,162.69L606.89,162.77L608.22,162.85L609.55,162.92L610.88,163.00L612.21,163.07L613.53,163.13L614.86,163.20L616.19,163.26L617.52,163.31L618.85,163.37L620.18,163.42L621.51,163.47L622.83,163.52L624.16,163.56L625.49,163.60L626.82,163.64L628.15,163.68L629.48,163.71L630.80,163.75L632.13,163.78L633.46,163.81L634.79,163.84L636.12,163.86L637.45,163.89L638.78,163.91L640.10,163.93L641.43,163.96L642.76,163.97L644.09,163.99L645.42,164.01L646.75,164.02L648.07,164.04L649.40,164.05L650.73,164.07L652.06,164.08L653.39,164.09L654.72,164.10L656.04,164.11L657.37,164.12L658.70,164.12L660.03,164.13L661.36,164.14L662.69,164.14L664.02,164.15L665.34,164.16L666.67,164.16L668.00,164.17L669.33,164.17L670.66,164.17L671.99,164.18L673.31,164.18L674.64,164.18L675.97,164.18L677.30,164.19M412.50,73.70L413.17,73.57L413.84,73.46L414.51,73.37L415.17,73.30L415.84,73.25L416.51,73.23L417.18,73.24L417.85,73.27L418.52,73.32L419.19,73.40L419.86,73.51L420.52,73.65L421.19,73.81L421.86,74.00L422.53,74.22L423.20,74.47L423.87,74.74L424.54,75.04L425.21,75.37L425.87,75.73L426.54,76.11L427.21,76.51L427.88,76.95L428.55,77.40L429.22,77.89L429.89,78.39L430.55,78.92L431.22,79.48L431.89,80.05L432.56,80.65L433.23,81.27L433.90,81.90L434.57,82.56L435.24,83.24L435.90,83.93L436.57,84.64L437.24,85.37L437.91,86.11L438.58,86.87L439.25,87.64L439.92,88.42L440.58,89.22L441.25,90.02L441.92,90.84L442.59,91.67L443.26,92.51L443.93,93.35L444.60,94.20L445.27,95.06L445.93,95.92L446.60,96.79L447.27,97.66L447.94,98.54L448.61,99.42L449.28,100.30L449.95,101.18L450.62,102.07L451.28,102.95L451.95,103.83L452.62,104.71L453.29,105.59L453.96,106.47L454.63,107.34L455.30,108.21L455.96,109.07L456.63,109.93L457.30,110.79L457.97,111.64L458.64,112.48L459.31,113.32L459.98,114.15L460.65,114.97L461.31,115.79L461.98,116.59L462.65,117.39L463.32,118.18L463.99,118.96L464.66,119.73L465.33,120.49L465.99,121.25L466.66,121.99L467.33,122.72L468.00,123.44L468.67,124.15L469.34,124.85L470.01,125.54L470.68,126.22L471.34,126.89L472.01,127.55L472.68,128.19L473.35,128.83L474.02,129.45L474.69,130.06L475.36,130.67L476.03,131.26L476.69,131.84L477.36,132.40L478.03,132.96L478.70,133.51L479.36,134.04L480.69,135.07L482.02,136.06L483.35,137.01L484.68,137.92L486.00,138.79L487.33,139.62L488.66,140.42L489.99,141.18L491.32,141.91L492.65,142.60L493.97,143.26L495.30,143.90L496.63,144.50L497.96,145.08L499.29,145.63L500.62,146.16L501.95,146.67L503.27,147.15L504.60,147.62L505.93,148.07L507.26,148.50L508.59,148.91L509.92,149.31L511.24,149.69L512.57,150.06L513.90,150.42L515.23,150.77L516.56,151.11L517.89,151.44L519.22,151.76L520.54,152.07L521.87,152.38L523.20,152.68L524.53,152.97L525.86,153.25L527.19,153.54L528.51,153.81L529.84,154.08L531.17,154.35L532.50,154.61L533.83,154.87L535.16,155.12L536.49,155.38L537.81,155.62L539.14,155.87L540.47,156.11L541.80,156.35L543.13,156.58L544.46,156.81L545.78,157.04L547.11,157.26L548.44,157.48L549.77,157.70L551.10,157.91L552.43,158.12L553.75,158.33L555.08,158.53L556.41,158.73L557.74,158.93L559.07,159.12L560.40,159.31L561.73,159.49L563.05,159.67L564.38,159.85L565.71,160.02L567.04,160.18L568.37,160.35L569.70,160.51L571.02,160.66L572.35,160.81L573.68,160.96L575.01,161.10L576.34,161.24L577.67,161.37L579.00,161.50L580.32,161.62L581.65,161.75L582.98,161.86L584.31,161.97L585.64,162.08L586.97,162.19L588.29,162.29L589.62,162.39L590.95,162.48L592.28,162.57L593.61,162.65L594.94,162.74L596.26,162.81L597.59,162.89L598.92,162.96L600.25,163.03L601.58,163.10L602.91,163.16L604.24,163.22L605.56,163.28L606.89,163.33L608.22,163.38L609.55,163.43L610.88,163.48L612.21,163.52L613.53,163.56L614.86,163.60L616.19,163.64L617.52,163.68L618.85,163.71L620.18,163.74L621.51,163.77L622.83,163.80L624.16,163.82L625.49,163.85L626.82,163.87L628.15,163.90L629.48,163.92L630.80,163.94L632.13,163.95L633.46,163.97L634.79,163.99L636.12,164.00L637.45,164.02L638.78,164.03L640.10,164.04L641.43,164.05L642.76,164.07L644.09,164.08L645.42,164.08L646.75,164.09L648.07,164.10L649.40,164.11L650.73,164.12L652.06,164.12L653.39,164.13L654.72,164.13L656.04,164.14L657.37,164.14L658.70,164.15L660.03,164.15L661.36,164.16L662.69,164.16L664.02,164.16L665.34,164.17L666.67,164.17L668.00,164.17L669.33,164.17L670.66,164.18L671.99,164.18L673.31,164.18L674.64,164.18L675.97,164.18L677.30,164.19M412.50,73.70L413.17,74.63L413.84,75.54L414.51,76.41L415.17,77.27L415.84,78.10L416.51,78.91L417.18,79.70L417.85,80.48L418.52,81.24L419.19,81.98L419.86,82.72L420.52,83.44L421.19,84.15L421.86,84.85L422.53,85.55L423.20,86.24L423.87,86.92L424.54,87.60L425.21,88.28L425.87,88.95L426.54,89.62L427.21,90.29L427.88,90.96L428.55,91.63L429.22,92.30L429.89,92.98L430.55,93.65L431.22,94.32L431.89,95.00L432.56,95.68L433.23,96.37L433.90,97.05L434.57,97.74L435.24,98.43L435.90,99.13L436.57,99.83L437.24,100.53L437.91,101.24L438.58,101.95L439.25,102.67L439.92,103.38L440.58,104.10L441.25,104.83L441.92,105.55L442.59,106.28L443.26,107.01L443.93,107.75L444.60,108.48L445.27,109.22L445.93,109.96L446.60,110.70L447.27,111.44L447.94,112.18L448.61,112.92L449.28,113.66L449.95,114.40L450.62,115.14L451.28,115.88L451.95,116.62L452.62,117.35L453.29,118.09L453.96,118.81L454.63,119.54L455.30,120.26L455.96,120.98L456.63,121.70L457.30,122.41L457.97,123.12L458.64,123.82L459.31,124.52L459.98,125.21L460.65,125.89L461.31,126.57L461.98,127.24L462.65,127.91L463.32,128.56L463.99,129.21L464.66,129.86L465.33,130.49L465.99,131.12L466.66,131.74L467.33,132.35L468.00,132.95L468.67,133.55L469.34,134.13L470.01,134.71L470.68,135.27L471.34,135.83L472.01,136.38L472.68,136.92L473.35,137.45L474.02,137.97L474.69,138.48L475.36,138.98L476.03,139.47L476.69,139.95L477.36,140.42L478.03,140.88L478.70,141.33L479.36,141.77L480.69,142.62L482.02,143.43L483.35,144.20L484.68,144.94L486.00,145.64L487.33,146.31L488.66,146.94L489.99,147.54L491.32,148.11L492.65,148.65L493.97,149.16L495.30,149.64L496.63,150.09L497.96,150.52L499.29,150.93L500.62,151.31L501.95,151.68L503.27,152.02L504.60,152.35L505.93,152.65L507.26,152.95L508.59,153.23L509.92,153.49L511.24,153.75L512.57,153.99L513.90,154.22L515.23,154.45L516.56,154.66L517.89,154.87L519.22,155.08L520.54,155.28L521.87,155.47L523.20,155.66L524.53,155.85L525.86,156.03L527.19,156.21L528.51,156.39L529.84,156.57L531.17,156.74L532.50,156.92L533.83,157.09L535.16,157.26L536.49,157.43L537.81,157.60L539.14,157.77L540.47,157.94L541.80,158.11L543.13,158.28L544.46,158.45L545.78,158.61L547.11,158.78L548.44,158.94L549.77,159.11L551.10,159.27L552.43,159.43L553.75,159.59L555.08,159.74L556.41,159.90L557.74,160.05L559.07,160.20L560.40,160.35L561.73,160.50L563.05,160.64L564.38,160.78L565.71,160.92L567.04,161.06L568.37,161.19L569.70,161.32L571.02,161.44L572.35,161.57L573.68,161.69L575.01,161.80L576.34,161.91L577.67,162.02L579.00,162.13L580.32,162.23L581.65,162.33L582.98,162.42L584.31,162.52L585.64,162.61L586.97,162.69L588.29,162.77L589.62,162.85L590.95,162.93L592.28,163.00L593.61,163.07L594.94,163.13L596.26,163.20L597.59,163.26L598.92,163.31L600.25,163.37L601.58,163.42L602.91,163.47L604.24,163.51L605.56,163.56L606.89,163.60L608.22,163.64L609.55,163.68L610.88,163.71L612.21,163.74L613.53,163.78L614.86,163.81L616.19,163.83L617.52,163.86L618.85,163.88L620.18,163.91L621.51,163.93L622.83,163.95L624.16,163.97L625.49,163.98L626.82,164.00L628.15,164.02L629.48,164.03L630.80,164.04L632.13,164.06L633.46,164.07L634.79,164.08L636.12,164.09L637.45,164.10L638.78,164.11L640.10,164.11L641.43,164.12L642.76,164.13L644.09,164.13L645.42,164.14L646.75,164.14L648.07,164.15L649.40,164.15L650.73,164.16L652.06,164.16L653.39,164.16L654.72,164.17L656.04,164.17L657.37,164.17L658.70,164.18L660.03,164.18L661.36,164.18L662.69,164.18L664.02,164.18L665.34,164.19L666.67,164.19L668.00,164.19L669.33,164.19L670.66,164.19L671.99,164.19L673.31,164.19L674.64,164.19L675.97,164.19L677.30,164.19M412.50,73.70L413.17,74.82L413.84,75.93L414.51,77.03L415.17,78.12L415.84,79.21L416.51,80.29L417.18,81.36L417.85,82.43L418.52,83.50L419.19,84.55L419.86,85.61L420.52,86.66L421.19,87.70L421.86,88.74L422.53,89.77L423.20,90.81L423.87,91.83L424.54,92.86L425.21,93.87L425.87,94.89L426.54,95.90L427.21,96.90L427.88,97.90L428.55,98.89L429.22,99.88L429.89,100.87L430.55,101.84L431.22,102.81L431.89,103.78L432.56,104.74L433.23,105.69L433.90,106.64L434.57,107.58L435.24,108.51L435.90,109.43L436.57,110.35L437.24,111.26L437.91,112.16L438.58,113.05L439.25,113.93L439.92,114.81L440.58,115.67L441.25,116.53L441.92,117.38L442.59,118.22L443.26,119.04L443.93,119.86L444.60,120.67L445.27,121.47L445.93,122.25L446.60,123.03L447.27,123.80L447.94,124.55L448.61,125.30L449.28,126.03L449.95,126.75L450.62,127.47L451.28,128.17L451.95,128.86L452.62,129.54L453.29,130.20L453.96,130.86L454.63,131.51L455.30,132.14L455.96,132.76L456.63,133.37L457.30,133.98L457.97,134.56L458.64,135.14L459.31,135.71L459.98,136.27L460.65,136.81L461.31,137.35L461.98,137.87L462.65,138.38L463.32,138.89L463.99,139.38L464.66,139.86L465.33,140.33L465.99,140.79L466.66,141.24L467.33,141.69L468.00,142.12L468.67,142.54L469.34,142.95L470.01,143.35L470.68,143.75L471.34,144.13L472.01,144.51L472.68,144.87L473.35,145.23L474.02,145.58L474.69,145.92L475.36,146.26L476.03,146.58L476.69,146.90L477.36,147.21L478.03,147.51L478.70,147.80L479.36,148.09L480.69,148.64L482.02,149.16L483.35,149.65L484.68,150.13L486.00,150.58L487.33,151.01L488.66,151.41L489.99,151.80L491.32,152.17L492.65,152.52L493.97,152.86L495.30,153.18L496.63,153.48L497.96,153.78L499.29,154.06L500.62,154.32L501.95,154.58L503.27,154.83L504.60,155.07L505.93,155.30L507.26,155.52L508.59,155.74L509.92,155.94L511.24,156.14L512.57,156.34L513.90,156.53L515.23,156.71L516.56,156.90L517.89,157.07L519.22,157.24L520.54,157.41L521.87,157.58L523.20,157.74L524.53,157.90L525.86,158.06L527.19,158.21L528.51,158.36L529.84,158.51L531.17,158.66L532.50,158.80L533.83,158.94L535.16,159.08L536.49,159.22L537.81,159.36L539.14,159.49L540.47,159.62L541.80,159.75L543.13,159.88L544.46,160.01L545.78,160.13L547.11,160.26L548.44,160.38L549.77,160.50L551.10,160.61L552.43,160.73L553.75,160.84L555.08,160.95L556.41,161.06L557.74,161.17L559.07,161.27L560.40,161.37L561.73,161.47L563.05,161.57L564.38,161.66L565.71,161.76L567.04,161.85L568.37,161.94L569.70,162.02L571.02,162.11L572.35,162.19L573.68,162.27L575.01,162.35L576.34,162.42L577.67,162.49L579.00,162.57L580.32,162.63L581.65,162.70L582.98,162.77L584.31,162.83L585.64,162.89L586.97,162.95L588.29,163.00L589.62,163.06L590.95,163.11L592.28,163.16L593.61,163.21L594.94,163.26L596.26,163.30L597.59,163.35L598.92,163.39L600.25,163.43L601.58,163.47L602.91,163.50L604.24,163.54L605.56,163.57L606.89,163.60L608.22,163.64L609.55,163.66L610.88,163.69L612.21,163.72L613.53,163.75L614.86,163.77L616.19,163.79L617.52,163.82L618.85,163.84L620.18,163.86L621.51,163.88L622.83,163.90L624.16,163.91L625.49,163.93L626.82,163.95L628.15,163.96L629.48,163.97L630.80,163.99L632.13,164.00L633.46,164.01L634.79,164.02L636.12,164.03L637.45,164.05L638.78,164.05L640.10,164.06L641.43,164.07L642.76,164.08L644.09,164.09L645.42,164.10L646.75,164.10L648.07,164.11L649.40,164.11L650.73,164.12L652.06,164.13L653.39,164.13L654.72,164.13L656.04,164.14L657.37,164.14L658.70,164.15L660.03,164.15L661.36,164.15L662.69,164.16L664.02,164.16L665.34,164.16L666.67,164.17L668.00,164.17L669.33,164.17L670.66,164.17L671.99,164.17L673.31,164.18L674.64,164.18L675.97,164.18L677.30,164.18" stroke="#ff3c3c" stroke-width="1.4"/>
<path d="M412.50,73.70L413.17,71.32L413.84,68.74L414.51,66.02L415.17,63.19L415.84,60.28L416.51,57.33L417.18,54.37L417.85,51.42L418.52,48.50L419.19,45.64L419.86,42.83L420.52,40.11L421.19,37.48L421.86,34.95L422.53,32.53L423.20,30.22L423.87,28.04L424.54,25.98L425.21,24.05L425.87,22.26L426.54,20.59L427.21,19.06L427.88,17.66L428.55,16.39L429.22,15.25L429.89,14.23L430.55,13.35L431.22,12.59L431.89,11.94L432.56,11.42L433.23,11.01L433.90,10.71L434.57,10.52L435.24,10.44L435.90,10.45L436.57,10.56L437.24,10.76L437.91,11.06L438.58,11.43L439.25,11.89L439.92,12.43L440.58,13.04L441.25,13.72L441.92,14.46L442.59,15.27L443.26,16.14L443.93,17.07L444.60,18.04L445.27,19.07L445.93,20.15L446.60,21.26L447.27,22.42L447.94,23.62L448.61,24.85L449.28,26.12L449.95,27.41L450.62,28.74L451.28,30.08L451.95,31.46L452.62,32.85L453.29,34.26L453.96,35.69L454.63,37.13L455.30,38.58L455.96,40.05L456.63,41.53L457.30,43.01L457.97,44.50L458.64,46.00L459.31,47.50L459.98,49.00L460.65,50.50L461.31,52.01L461.98,53.51L462.65,55.01L463.32,56.51L463.99,58.00L464.66,59.49L465.33,60.97L465.99,62.45L466.66,63.91L467.33,65.38L468.00,66.83L468.67,68.27L469.34,69.71L470.01,71.13L470.68,72.54L471.34,73.94L472.01,75.33L472.68,76.71L473.35,78.08L474.02,79.43L474.69,80.77L475.36,82.10L476.03,83.41L476.69,84.71L477.36,86.00L478.03,87.27L478.70,88.53L479.36,89.76L480.69,92.19L482.02,94.56L483.35,96.87L484.68,99.12L486.00,101.32L487.33,103.46L488.66,105.54L489.99,107.56L491.32,109.52L492.65,111.43L493.97,113.28L495.30,115.07L496.63,116.82L497.96,118.50L499.29,120.14L500.62,121.73L501.95,123.26L503.27,124.75L504.60,126.18L505.93,127.57L507.26,128.92L508.59,130.22L509.92,131.48L511.24,132.69L512.57,133.86L513.90,135.00L515.23,136.09L516.56,137.15L517.89,138.17L519.22,139.15L520.54,140.10L521.87,141.01L523.20,141.90L524.53,142.75L525.86,143.57L527.19,144.36L528.51,145.12L529.84,145.86L531.17,146.56L532.50,147.25L533.83,147.90L535.16,148.53L536.49,149.14L537.81,149.73L539.14,150.29L540.47,150.84L541.80,151.36L543.13,151.86L544.46,152.34L545.78,152.81L547.11,153.26L548.44,153.69L549.77,154.10L551.10,154.50L552.43,154.88L553.75,155.25L555.08,155.61L556.41,155.95L557.74,156.27L559.07,156.59L560.40,156.89L561.73,157.18L563.05,157.46L564.38,157.73L565.71,157.99L567.04,158.23L568.37,158.47L569.70,158.70L571.02,158.92L572.35,159.13L573.68,159.33L575.01,159.53L576.34,159.71L577.67,159.89L579.00,160.07L580.32,160.23L581.65,160.39L582.98,160.54L584.31,160.69L585.64,160.83L586.97,160.96L588.29,161.09L589.62,161.22L590.95,161.34L592.28,161.45L593.61,161.56L594.94,161.67L596.26,161.77L597.59,161.87L598.92,161.96L600.25,162.05L601.58,162.14L602.91,162.22L604.24,162.30L605.56,162.37L606.89,162.45L608.22,162.52L609.55,162.58L610.88,162.65L612.21,162.71L613.53,162.77L614.86,162.83L616.19,162.88L617.52,162.93L618.85,162.98L620.18,163.03L621.51,163.08L622.83,163.12L624.16,163.17L625.49,163.21L626.82,163.25L628.15,163.28L629.48,163.32L630.80,163.35L632.13,163.39L633.46,163.42L634.79,163.45L636.12,163.48L637.45,163.51L638.78,163.54L640.10,163.56L641.43,163.59L642.76,163.61L644.09,163.63L645.42,163.66L646.75,163.68L648.07,163.70L649.40,163.72L650.73,163.74L652.06,163.75L653.39,163.77L654.72,163.79L656.04,163.80L657.37,163.82L658.70,163.83L660.03,163.85L661.36,163.86L662.69,163.87L664.02,163.89L665.34,163.90L666.67,163.91L668.00,163.92L669.33,163.93L670.66,163.94L671.99,163.95L673.31,163.96L674.64,163.97L675.97,163.98L677.30,163.99" stroke="#3030ff" stroke-width="1.6" stroke-dasharray="6.5,4.3" stroke-dashoffset="6.33"/>
<path d="M412.50,73.70L413.17,71.54L413.84,69.28L414.51,66.93L415.17,64.55L415.84,62.16L416.51,59.79L417.18,57.45L417.85,55.17L418.52,52.97L419.19,50.84L419.86,48.81L420.52,46.88L421.19,45.07L421.86,43.36L422.53,41.77L423.20,40.31L423.87,38.96L424.54,37.74L425.21,36.64L425.87,35.65L426.54,34.79L427.21,34.04L427.88,33.41L428.55,32.88L429.22,32.46L429.89,32.15L430.55,31.94L431.22,31.82L431.89,31.80L432.56,31.86L433.23,32.01L433.90,32.24L434.57,32.55L435.24,32.93L435.90,33.38L436.57,33.89L437.24,34.47L437.91,35.11L438.58,35.80L439.25,36.55L439.92,37.34L440.58,38.18L441.25,39.06L441.92,39.98L442.59,40.94L443.26,41.93L443.93,42.95L444.60,44.00L445.27,45.08L445.93,46.18L446.60,47.30L447.27,48.45L447.94,49.61L448.61,50.79L449.28,51.98L449.95,53.19L450.62,54.41L451.28,55.63L451.95,56.87L452.62,58.11L453.29,59.36L453.96,60.61L454.63,61.87L455.30,63.12L455.96,64.38L456.63,65.64L457.30,66.90L457.97,68.15L458.64,69.41L459.31,70.66L459.98,71.90L460.65,73.14L461.31,74.38L461.98,75.61L462.65,76.84L463.32,78.05L463.99,79.26L464.66,80.47L465.33,81.66L465.99,82.85L466.66,84.02L467.33,85.19L468.00,86.35L468.67,87.50L469.34,88.64L470.01,89.77L470.68,90.89L471.34,91.99L472.01,93.09L472.68,94.18L473.35,95.25L474.02,96.31L474.69,97.37L475.36,98.41L476.03,99.44L476.69,100.45L477.36,101.46L478.03,102.45L478.70,103.44L479.36,104.40L480.69,106.29L482.02,108.14L483.35,109.94L484.68,111.70L486.00,113.41L487.33,115.07L488.66,116.69L489.99,118.27L491.32,119.80L492.65,121.29L493.97,122.73L495.30,124.14L496.63,125.50L497.96,126.82L499.29,128.10L500.62,129.35L501.95,130.55L503.27,131.72L504.60,132.85L505.93,133.95L507.26,135.01L508.59,136.04L509.92,137.03L511.24,137.99L512.57,138.92L513.90,139.82L515.23,140.69L516.56,141.53L517.89,142.34L519.22,143.13L520.54,143.89L521.87,144.62L523.20,145.33L524.53,146.01L525.86,146.67L527.19,147.31L528.51,147.92L529.84,148.51L531.17,149.08L532.50,149.64L533.83,150.17L535.16,150.68L536.49,151.18L537.81,151.65L539.14,152.11L540.47,152.55L541.80,152.98L543.13,153.39L544.46,153.79L545.78,154.17L547.11,154.54L548.44,154.89L549.77,155.24L551.10,155.56L552.43,155.88L553.75,156.19L555.08,156.48L556.41,156.76L557.74,157.04L559.07,157.30L560.40,157.55L561.73,157.79L563.05,158.03L564.38,158.25L565.71,158.47L567.04,158.68L568.37,158.88L569.70,159.07L571.02,159.26L572.35,159.44L573.68,159.61L575.01,159.78L576.34,159.94L577.67,160.09L579.00,160.24L580.32,160.38L581.65,160.52L582.98,160.65L584.31,160.78L585.64,160.90L586.97,161.02L588.29,161.13L589.62,161.24L590.95,161.34L592.28,161.44L593.61,161.54L594.94,161.64L596.26,161.73L597.59,161.81L598.92,161.90L600.25,161.98L601.58,162.05L602.91,162.13L604.24,162.20L605.56,162.27L606.89,162.33L608.22,162.40L609.55,162.46L610.88,162.52L612.21,162.58L613.53,162.63L614.86,162.68L616.19,162.74L617.52,162.78L618.85,162.83L620.18,162.88L621.51,162.92L622.83,162.96L624.16,163.00L625.49,163.04L626.82,163.08L628.15,163.12L629.48,163.15L630.80,163.19L632.13,163.22L633.46,163.25L634.79,163.28L636.12,163.31L637.45,163.34L638.78,163.37L640.10,163.39L641.43,163.42L642.76,163.44L644.09,163.47L645.42,163.49L646.75,163.51L648.07,163.53L649.40,163.55L650.73,163.57L652.06,163.59L653.39,163.61L654.72,163.63L656.04,163.64L657.37,163.66L658.70,163.68L660.03,163.69L661.36,163.71L662.69,163.72L664.02,163.74L665.34,163.75L666.67,163.76L668.00,163.77L669.33,163.79L670.66,163.80L671.99,163.81L673.31,163.82L674.64,163.83L675.97,163.84L677.30,163.85" stroke="#3030ff" stroke-width="1.6" stroke-dasharray="6.5,4.3" stroke-dashoffset="9.08"/>
<path d="M412.50,73.70L413.17,71.70L413.84,69.64L414.51,67.56L415.17,65.47L415.84,63.40L416.51,61.35L417.18,59.35L417.85,57.40L418.52,55.52L419.19,53.71L419.86,51.98L420.52,50.34L421.19,48.80L421.86,47.35L422.53,45.99L423.20,44.74L423.87,43.59L424.54,42.55L425.21,41.60L425.87,40.76L426.54,40.02L427.21,39.39L427.88,38.85L428.55,38.40L429.22,38.05L429.89,37.79L430.55,37.63L431.22,37.54L431.89,37.55L432.56,37.63L433.23,37.79L433.90,38.03L434.57,38.33L435.24,38.71L435.90,39.15L436.57,39.66L437.24,40.22L437.91,40.84L438.58,41.51L439.25,42.23L439.92,43.00L440.58,43.82L441.25,44.68L441.92,45.57L442.59,46.51L443.26,47.47L443.93,48.47L444.60,49.50L445.27,50.56L445.93,51.64L446.60,52.74L447.27,53.86L447.94,55.01L448.61,56.17L449.28,57.34L449.95,58.53L450.62,59.73L451.28,60.94L451.95,62.16L452.62,63.39L453.29,64.62L453.96,65.85L454.63,67.10L455.30,68.34L455.96,69.58L456.63,70.82L457.30,72.07L457.97,73.31L458.64,74.55L459.31,75.78L459.98,77.01L460.65,78.24L461.31,79.46L461.98,80.67L462.65,81.88L463.32,83.08L463.99,84.27L464.66,85.45L465.33,86.62L465.99,87.79L466.66,88.94L467.33,90.09L468.00,91.22L468.67,92.34L469.34,93.46L470.01,94.56L470.68,95.65L471.34,96.73L472.01,97.79L472.68,98.85L473.35,99.89L474.02,100.92L474.69,101.94L475.36,102.95L476.03,103.94L476.69,104.92L477.36,105.89L478.03,106.85L478.70,107.79L479.36,108.71L480.69,110.53L482.02,112.29L483.35,114.01L484.68,115.67L486.00,117.30L487.33,118.87L488.66,120.40L489.99,121.88L491.32,123.31L492.65,124.71L493.97,126.05L495.30,127.36L496.63,128.63L497.96,129.86L499.29,131.04L500.62,132.19L501.95,133.30L503.27,134.38L504.60,135.42L505.93,136.43L507.26,137.40L508.59,138.34L509.92,139.25L511.24,140.13L512.57,140.98L513.90,141.80L515.23,142.59L516.56,143.36L517.89,144.10L519.22,144.81L520.54,145.50L521.87,146.17L523.20,146.81L524.53,147.43L525.86,148.03L527.19,148.61L528.51,149.17L529.84,149.71L531.17,150.23L532.50,150.74L533.83,151.22L535.16,151.69L536.49,152.14L537.81,152.57L539.14,152.99L540.47,153.40L541.80,153.79L543.13,154.17L544.46,154.53L545.78,154.88L547.11,155.22L548.44,155.55L549.77,155.86L551.10,156.16L552.43,156.46L553.75,156.74L555.08,157.01L556.41,157.27L557.74,157.52L559.07,157.77L560.40,158.00L561.73,158.23L563.05,158.45L564.38,158.66L565.71,158.86L567.04,159.05L568.37,159.24L569.70,159.42L571.02,159.60L572.35,159.77L573.68,159.93L575.01,160.09L576.34,160.24L577.67,160.38L579.00,160.52L580.32,160.66L581.65,160.79L582.98,160.91L584.31,161.03L585.64,161.15L586.97,161.26L588.29,161.37L589.62,161.47L590.95,161.57L592.28,161.67L593.61,161.76L594.94,161.85L596.26,161.93L597.59,162.02L598.92,162.10L600.25,162.17L601.58,162.25L602.91,162.32L604.24,162.39L605.56,162.45L606.89,162.52L608.22,162.58L609.55,162.64L610.88,162.69L612.21,162.75L613.53,162.80L614.86,162.85L616.19,162.90L617.52,162.95L618.85,162.99L620.18,163.04L621.51,163.08L622.83,163.12L624.16,163.16L625.49,163.20L626.82,163.23L628.15,163.27L629.48,163.30L630.80,163.33L632.13,163.36L633.46,163.39L634.79,163.42L636.12,163.45L637.45,163.48L638.78,163.50L640.10,163.53L641.43,163.55L642.76,163.57L644.09,163.60L645.42,163.62L646.75,163.64L648.07,163.66L649.40,163.68L650.73,163.70L652.06,163.71L653.39,163.73L654.72,163.75L656.04,163.76L657.37,163.78L658.70,163.79L660.03,163.81L661.36,163.82L662.69,163.84L664.02,163.85L665.34,163.86L666.67,163.87L668.00,163.88L669.33,163.89L670.66,163.90L671.99,163.92L673.31,163.92L674.64,163.93L675.97,163.94L677.30,163.95" stroke="#3030ff" stroke-width="1.6" stroke-dasharray="6.5,4.3" stroke-dashoffset="8.16"/>
<path d="M412.50,73.70L413.17,71.61L413.84,69.58L414.51,67.62L415.17,65.73L415.84,63.91L416.51,62.17L417.18,60.51L417.85,58.93L418.52,57.44L419.19,56.02L419.86,54.70L420.52,53.45L421.19,52.29L421.86,51.22L422.53,50.23L423.20,49.33L423.87,48.51L424.54,47.78L425.21,47.12L425.87,46.55L426.54,46.06L427.21,45.64L427.88,45.31L428.55,45.04L429.22,44.85L429.89,44.74L430.55,44.69L431.22,44.71L431.89,44.79L432.56,44.94L433.23,45.15L433.90,45.42L434.57,45.75L435.24,46.13L435.90,46.57L436.57,47.05L437.24,47.59L437.91,48.17L438.58,48.80L439.25,49.47L439.92,50.18L440.58,50.94L441.25,51.72L441.92,52.55L442.59,53.40L443.26,54.29L443.93,55.21L444.60,56.15L445.27,57.12L445.93,58.11L446.60,59.13L447.27,60.16L447.94,61.22L448.61,62.29L449.28,63.38L449.95,64.49L450.62,65.60L451.28,66.73L451.95,67.87L452.62,69.02L453.29,70.17L453.96,71.34L454.63,72.50L455.30,73.68L455.96,74.85L456.63,76.03L457.30,77.21L457.97,78.39L458.64,79.57L459.31,80.75L459.98,81.92L460.65,83.09L461.31,84.26L461.98,85.43L462.65,86.59L463.32,87.74L463.99,88.89L464.66,90.03L465.33,91.16L465.99,92.29L466.66,93.41L467.33,94.51L468.00,95.61L468.67,96.70L469.34,97.78L470.01,98.85L470.68,99.91L471.34,100.96L472.01,102.00L472.68,103.02L473.35,104.03L474.02,105.04L474.69,106.03L475.36,107.00L476.03,107.97L476.69,108.92L477.36,109.86L478.03,110.79L478.70,111.71L479.36,112.60L480.69,114.36L482.02,116.06L483.35,117.72L484.68,119.33L486.00,120.89L487.33,122.39L488.66,123.85L489.99,125.27L491.32,126.63L492.65,127.95L493.97,129.23L495.30,130.46L496.63,131.65L497.96,132.79L499.29,133.90L500.62,134.97L501.95,136.00L503.27,136.99L504.60,137.95L505.93,138.87L507.26,139.76L508.59,140.62L509.92,141.44L511.24,142.24L512.57,143.00L513.90,143.74L515.23,144.46L516.56,145.14L517.89,145.81L519.22,146.44L520.54,147.06L521.87,147.65L523.20,148.22L524.53,148.78L525.86,149.31L527.19,149.82L528.51,150.32L529.84,150.80L531.17,151.26L532.50,151.71L533.83,152.14L535.16,152.56L536.49,152.96L537.81,153.35L539.14,153.72L540.47,154.09L541.80,154.44L543.13,154.78L544.46,155.11L545.78,155.42L547.11,155.73L548.44,156.03L549.77,156.32L551.10,156.59L552.43,156.86L553.75,157.12L555.08,157.38L556.41,157.62L557.74,157.86L559.07,158.08L560.40,158.31L561.73,158.52L563.05,158.73L564.38,158.93L565.71,159.12L567.04,159.31L568.37,159.49L569.70,159.67L571.02,159.84L572.35,160.00L573.68,160.16L575.01,160.31L576.34,160.46L577.67,160.61L579.00,160.75L580.32,160.88L581.65,161.01L582.98,161.14L584.31,161.26L585.64,161.37L586.97,161.49L588.29,161.60L589.62,161.70L590.95,161.80L592.28,161.90L593.61,162.00L594.94,162.09L596.26,162.18L597.59,162.26L598.92,162.34L600.25,162.42L601.58,162.50L602.91,162.57L604.24,162.64L605.56,162.71L606.89,162.77L608.22,162.83L609.55,162.89L610.88,162.95L612.21,163.01L613.53,163.06L614.86,163.11L616.19,163.16L617.52,163.21L618.85,163.25L620.18,163.30L621.51,163.34L622.83,163.38L624.16,163.42L625.49,163.46L626.82,163.49L628.15,163.52L629.48,163.56L630.80,163.59L632.13,163.62L633.46,163.65L634.79,163.67L636.12,163.70L637.45,163.72L638.78,163.75L640.10,163.77L641.43,163.79L642.76,163.81L644.09,163.83L645.42,163.85L646.75,163.87L648.07,163.88L649.40,163.90L650.73,163.92L652.06,163.93L653.39,163.94L654.72,163.96L656.04,163.97L657.37,163.98L658.70,163.99L660.03,164.01L661.36,164.02L662.69,164.03L664.02,164.04L665.34,164.04L666.67,164.05L668.00,164.06L669.33,164.07L670.66,164.08L671.99,164.08L673.31,164.09L674.64,164.10L675.97,164.10L677.30,164.11" stroke="#3030ff" stroke-width="1.6" stroke-dasharray="6.5,4.3" stroke-dashoffset="9.20"/>
</g>
<line x1="506.3" y1="86" x2="444.14" y2="147.63" stroke="#3a3a3a" stroke-width="1.0"/>
<path d="M435.9,155.8L442.53,143.17L443.78,147.98L448.59,149.28Z" fill="#111"/>
<text x="544.90" y="214.40" text-anchor="middle" class="al">(<tspan font-style="italic">η</tspan>)</text>
<text transform="translate(372.80,86.80) rotate(-90)" text-anchor="middle" class="al"><tspan font-style="italic">h</tspan><tspan font-size="10" dy="3">0</tspan><tspan dy="-3">(</tspan><tspan font-style="italic">η</tspan>)</text>
<text transform="translate(487.65,31.90) scale(1,1.085)" text-anchor="middle" class="pl">(b)</text>
<rect x="535.7" y="7.7" width="140.90" height="51.30" fill="#fff" stroke="#222" stroke-width="1.1"/>
<line x1="541.2" y1="20.5" x2="551.3" y2="20.5" stroke="#ff3c3c" stroke-width="1.2"/>
<path d="M541.2,45.3h4.9M547.3000000000001,45.3h1.9M550.3000000000001,45.3h1" stroke="#3030ff" stroke-width="1.3"/>
<text x="581" y="24.80" class="lg">First Solution</text>
<text x="581" y="49.60" class="lg">Second Solution</text>
<text x="549.1" y="108.1" class="nt" font-style="italic">σ</text>
<text x="559.6" y="108.1" class="nt">=</text>
<text x="569.2" y="108.1" class="nt">0.2,</text>
<text x="594.8" y="108.1" class="nt">0.4,</text>
<text x="619.5" y="108.1" class="nt">0.6,</text>
<text x="644.2" y="108.1" class="nt">0.8</text>
<rect x="236.7" y="253.8" width="271.20" height="165.90" fill="none" stroke="#222" stroke-width="1.1"/>
<path d="M242.80,419.7v-3.4M242.80,253.8v3.4M259.03,419.7v-2.1M259.03,253.8v2.1M275.26,419.7v-2.1M275.26,253.8v2.1M291.49,419.7v-2.1M291.49,253.8v2.1M307.72,419.7v-3.4M307.72,253.8v3.4M323.95,419.7v-2.1M323.95,253.8v2.1M340.18,419.7v-2.1M340.18,253.8v2.1M356.41,419.7v-2.1M356.41,253.8v2.1M372.64,419.7v-3.4M372.64,253.8v3.4M388.87,419.7v-2.1M388.87,253.8v2.1M405.10,419.7v-2.1M405.10,253.8v2.1M421.33,419.7v-2.1M421.33,253.8v2.1M437.56,419.7v-3.4M437.56,253.8v3.4M453.79,419.7v-2.1M453.79,253.8v2.1M470.02,419.7v-2.1M470.02,253.8v2.1M486.25,419.7v-2.1M486.25,253.8v2.1M502.48,419.7v-3.4M502.48,253.8v3.4M236.7,412.00h3.4M507.9,412.00h-3.4M236.7,401.73h2.1M507.9,401.73h-2.1M236.7,391.46h2.1M507.9,391.46h-2.1M236.7,381.19h2.1M507.9,381.19h-2.1M236.7,370.92h2.1M507.9,370.92h-2.1M236.7,360.65h3.4M507.9,360.65h-3.4M236.7,350.38h2.1M507.9,350.38h-2.1M236.7,340.11h2.1M507.9,340.11h-2.1M236.7,329.84h2.1M507.9,329.84h-2.1M236.7,319.57h2.1M507.9,319.57h-2.1M236.7,309.30h3.4M507.9,309.30h-3.4M236.7,299.03h2.1M507.9,299.03h-2.1M236.7,288.76h2.1M507.9,288.76h-2.1M236.7,278.49h2.1M507.9,278.49h-2.1M236.7,268.22h2.1M507.9,268.22h-2.1M236.7,257.95h3.4M507.9,257.95h-3.4" stroke="#222" stroke-width="1" fill="none"/>
<text transform="translate(242.80,437.70) scale(1,1.05)" text-anchor="middle" class="tl">0</text>
<text transform="translate(307.72,437.70) scale(1,1.05)" text-anchor="middle" class="tl">2</text>
<text transform="translate(372.64,437.70) scale(1,1.05)" text-anchor="middle" class="tl">4</text>
<text transform="translate(437.56,437.70) scale(1,1.05)" text-anchor="middle" class="tl">6</text>
<text transform="translate(502.48,437.70) scale(1,1.05)" text-anchor="middle" class="tl">8</text>
<text transform="translate(233.60,417.60) scale(1,1.05)" text-anchor="end" class="tl">0.0</text>
<text transform="translate(233.60,366.25) scale(1,1.05)" text-anchor="end" class="tl">0.5</text>
<text transform="translate(233.60,314.90) scale(1,1.05)" text-anchor="end" class="tl">1.0</text>
<text transform="translate(233.60,263.55) scale(1,1.05)" text-anchor="end" class="tl">1.5</text>
<clipPath id="clipc"><rect x="236.7" y="253.8" width="271.2" height="165.89999999999998"/></clipPath>
<g clip-path="url(#clipc)" fill="none">
<path d="M242.80,309.30L243.46,308.03L244.11,306.82L244.77,305.65L245.42,304.55L246.08,303.49L246.73,302.49L247.39,301.55L248.05,300.66L248.70,299.83L249.36,299.06L250.01,298.34L250.67,297.68L251.32,297.08L251.98,296.54L252.64,296.05L253.29,295.62L253.95,295.24L254.60,294.92L255.26,294.66L255.92,294.45L256.57,294.30L257.23,294.19L257.88,294.15L258.54,294.15L259.19,294.21L259.85,294.32L260.51,294.47L261.16,294.68L261.82,294.93L262.47,295.23L263.13,295.58L263.78,295.97L264.44,296.40L265.10,296.88L265.75,297.40L266.41,297.96L267.06,298.55L267.72,299.19L268.37,299.86L269.03,300.56L269.69,301.30L270.34,302.07L271.00,302.88L271.65,303.71L272.31,304.57L272.96,305.46L273.62,306.37L274.28,307.31L274.93,308.27L275.59,309.26L276.24,310.26L276.90,311.29L277.56,312.33L278.21,313.39L278.87,314.46L279.52,315.55L280.18,316.65L280.83,317.77L281.49,318.89L282.15,320.03L282.80,321.17L283.46,322.32L284.11,323.48L284.77,324.64L285.42,325.81L286.08,326.98L286.74,328.15L287.39,329.32L288.05,330.50L288.70,331.67L289.36,332.85L290.01,334.02L290.67,335.18L291.33,336.35L291.98,337.51L292.64,338.67L293.29,339.82L293.95,340.96L294.60,342.10L295.26,343.22L295.92,344.34L296.57,345.46L297.23,346.56L297.88,347.65L298.54,348.74L299.20,349.81L299.85,350.87L300.51,351.92L301.16,352.96L301.82,353.99L302.47,355.00L303.13,356.00L303.79,356.99L304.44,357.97L305.10,358.93L305.75,359.89L306.41,360.82L307.06,361.75L307.72,362.66L308.37,363.54L309.67,365.28L310.97,366.97L312.28,368.60L313.58,370.18L314.88,371.70L316.19,373.17L317.49,374.58L318.79,375.95L320.09,377.26L321.40,378.53L322.70,379.75L324.00,380.92L325.31,382.04L326.61,383.13L327.91,384.17L329.21,385.17L330.52,386.13L331.82,387.06L333.12,387.95L334.42,388.80L335.73,389.63L337.03,390.42L338.33,391.19L339.64,391.92L340.94,392.63L342.24,393.32L343.54,393.98L344.85,394.62L346.15,395.24L347.45,395.83L348.75,396.41L350.06,396.97L351.36,397.51L352.66,398.04L353.97,398.55L355.27,399.04L356.57,399.52L357.87,399.98L359.18,400.43L360.48,400.87L361.78,401.30L363.08,401.71L364.39,402.11L365.69,402.50L366.99,402.88L368.30,403.25L369.60,403.61L370.90,403.96L372.20,404.29L373.51,404.62L374.81,404.94L376.11,405.25L377.42,405.54L378.72,405.83L380.02,406.11L381.32,406.38L382.63,406.65L383.93,406.90L385.23,407.14L386.53,407.38L387.84,407.61L389.14,407.83L390.44,408.04L391.75,408.24L393.05,408.44L394.35,408.62L395.65,408.81L396.96,408.98L398.26,409.14L399.56,409.30L400.86,409.45L402.17,409.60L403.47,409.74L404.77,409.87L406.08,410.00L407.38,410.12L408.68,410.23L409.98,410.34L411.29,410.44L412.59,410.54L413.89,410.63L415.20,410.72L416.50,410.80L417.80,410.88L419.10,410.96L420.41,411.03L421.71,411.09L423.01,411.16L424.31,411.21L425.62,411.27L426.92,411.32L428.22,411.37L429.53,411.42L430.83,411.46L432.13,411.50L433.43,411.54L434.74,411.57L436.04,411.60L437.34,411.63L438.64,411.66L439.95,411.69L441.25,411.71L442.55,411.74L443.86,411.76L445.16,411.78L446.46,411.80L447.76,411.81L449.07,411.83L450.37,411.84L451.67,411.86L452.98,411.87L454.28,411.88L455.58,411.89L456.88,411.90L458.19,411.91L459.49,411.92L460.79,411.92L462.09,411.93L463.40,411.94L464.70,411.94L466.00,411.95L467.31,411.95L468.61,411.96L469.91,411.96L471.21,411.97L472.52,411.97L473.82,411.97L475.12,411.97L476.42,411.98L477.73,411.98L479.03,411.98L480.33,411.98L481.64,411.98L482.94,411.99L484.24,411.99L485.54,411.99L486.85,411.99L488.15,411.99L489.45,411.99L490.76,411.99L492.06,411.99L493.36,411.99L494.66,411.99L495.97,412.00L497.27,412.00L498.57,412.00L499.87,412.00L501.18,412.00L502.48,412.00M242.80,309.30L243.46,309.82L244.11,310.20L244.77,310.45L245.42,310.61L246.08,310.69L246.73,310.72L247.39,310.70L248.05,310.65L248.70,310.59L249.36,310.53L250.01,310.47L250.67,310.43L251.32,310.41L251.98,310.42L252.64,310.46L253.29,310.54L253.95,310.66L254.60,310.82L255.26,311.02L255.92,311.28L256.57,311.58L257.23,311.93L257.88,312.32L258.54,312.76L259.19,313.25L259.85,313.79L260.51,314.36L261.16,314.98L261.82,315.64L262.47,316.34L263.13,317.08L263.78,317.85L264.44,318.66L265.10,319.49L265.75,320.36L266.41,321.25L267.06,322.17L267.72,323.11L268.37,324.08L269.03,325.06L269.69,326.06L270.34,327.07L271.00,328.10L271.65,329.14L272.31,330.19L272.96,331.25L273.62,332.31L274.28,333.38L274.93,334.45L275.59,335.52L276.24,336.60L276.90,337.67L277.56,338.75L278.21,339.82L278.87,340.88L279.52,341.94L280.18,343.00L280.83,344.05L281.49,345.09L282.15,346.13L282.80,347.15L283.46,348.17L284.11,349.17L284.77,350.17L285.42,351.16L286.08,352.13L286.74,353.09L287.39,354.04L288.05,354.98L288.70,355.91L289.36,356.82L290.01,357.72L290.67,358.61L291.33,359.48L291.98,360.35L292.64,361.20L293.29,362.03L293.95,362.86L294.60,363.67L295.26,364.46L295.92,365.25L296.57,366.02L297.23,366.78L297.88,367.53L298.54,368.26L299.20,368.98L299.85,369.69L300.51,370.39L301.16,371.08L301.82,371.75L302.47,372.41L303.13,373.07L303.79,373.71L304.44,374.34L305.10,374.96L305.75,375.57L306.41,376.17L307.06,376.76L307.72,377.34L308.37,377.90L309.67,379.00L310.97,380.07L312.28,381.11L313.58,382.11L314.88,383.08L316.19,384.02L317.49,384.93L318.79,385.82L320.09,386.68L321.40,387.51L322.70,388.32L324.00,389.11L325.31,389.87L326.61,390.61L327.91,391.33L329.21,392.03L330.52,392.72L331.82,393.38L333.12,394.03L334.42,394.65L335.73,395.26L337.03,395.86L338.33,396.43L339.64,397.00L340.94,397.54L342.24,398.07L343.54,398.59L344.85,399.09L346.15,399.58L347.45,400.05L348.75,400.51L350.06,400.96L351.36,401.39L352.66,401.81L353.97,402.22L355.27,402.62L356.57,403.00L357.87,403.37L359.18,403.73L360.48,404.08L361.78,404.41L363.08,404.74L364.39,405.05L365.69,405.35L366.99,405.64L368.30,405.93L369.60,406.20L370.90,406.46L372.20,406.71L373.51,406.96L374.81,407.19L376.11,407.42L377.42,407.63L378.72,407.84L380.02,408.04L381.32,408.23L382.63,408.42L383.93,408.59L385.23,408.76L386.53,408.92L387.84,409.08L389.14,409.23L390.44,409.37L391.75,409.50L393.05,409.63L394.35,409.76L395.65,409.88L396.96,409.99L398.26,410.10L399.56,410.20L400.86,410.30L402.17,410.39L403.47,410.48L404.77,410.56L406.08,410.64L407.38,410.72L408.68,410.79L409.98,410.86L411.29,410.92L412.59,410.99L413.89,411.04L415.20,411.10L416.50,411.15L417.80,411.20L419.10,411.25L420.41,411.29L421.71,411.34L423.01,411.38L424.31,411.41L425.62,411.45L426.92,411.48L428.22,411.51L429.53,411.54L430.83,411.57L432.13,411.60L433.43,411.62L434.74,411.65L436.04,411.67L437.34,411.69L438.64,411.71L439.95,411.73L441.25,411.75L442.55,411.76L443.86,411.78L445.16,411.79L446.46,411.81L447.76,411.82L449.07,411.83L450.37,411.84L451.67,411.85L452.98,411.86L454.28,411.87L455.58,411.88L456.88,411.89L458.19,411.90L459.49,411.90L460.79,411.91L462.09,411.92L463.40,411.92L464.70,411.93L466.00,411.93L467.31,411.94L468.61,411.94L469.91,411.95L471.21,411.95L472.52,411.95L473.82,411.96L475.12,411.96L476.42,411.96L477.73,411.97L479.03,411.97L480.33,411.97L481.64,411.97L482.94,411.97L484.24,411.98L485.54,411.98L486.85,411.98L488.15,411.98L489.45,411.98L490.76,411.98L492.06,411.99L493.36,411.99L494.66,411.99L495.97,411.99L497.27,411.99L498.57,411.99L499.87,411.99L501.18,411.99L502.48,411.99M242.80,309.30L243.46,310.67L244.11,311.93L244.77,313.09L245.42,314.16L246.08,315.15L246.73,316.09L247.39,316.96L248.05,317.79L248.70,318.58L249.36,319.34L250.01,320.07L250.67,320.78L251.32,321.48L251.98,322.17L252.64,322.85L253.29,323.52L253.95,324.20L254.60,324.88L255.26,325.57L255.92,326.26L256.57,326.96L257.23,327.66L257.88,328.38L258.54,329.11L259.19,329.85L259.85,330.60L260.51,331.37L261.16,332.14L261.82,332.93L262.47,333.73L263.13,334.54L263.78,335.36L264.44,336.19L265.10,337.03L265.75,337.88L266.41,338.74L267.06,339.60L267.72,340.48L268.37,341.35L269.03,342.24L269.69,343.13L270.34,344.02L271.00,344.92L271.65,345.82L272.31,346.72L272.96,347.62L273.62,348.52L274.28,349.42L274.93,350.32L275.59,351.22L276.24,352.11L276.90,353.00L277.56,353.89L278.21,354.77L278.87,355.65L279.52,356.52L280.18,357.39L280.83,358.25L281.49,359.10L282.15,359.95L282.80,360.79L283.46,361.62L284.11,362.44L284.77,363.25L285.42,364.06L286.08,364.85L286.74,365.64L287.39,366.41L288.05,367.18L288.70,367.94L289.36,368.68L290.01,369.42L290.67,370.14L291.33,370.86L291.98,371.56L292.64,372.26L293.29,372.94L293.95,373.61L294.60,374.28L295.26,374.93L295.92,375.57L296.57,376.20L297.23,376.82L297.88,377.43L298.54,378.03L299.20,378.62L299.85,379.20L300.51,379.77L301.16,380.33L301.82,380.88L302.47,381.42L303.13,381.95L303.79,382.48L304.44,382.99L305.10,383.49L305.75,383.99L306.41,384.47L307.06,384.95L307.72,385.42L308.37,385.87L309.67,386.76L310.97,387.62L312.28,388.45L313.58,389.25L314.88,390.02L316.19,390.77L317.49,391.49L318.79,392.18L320.09,392.85L321.40,393.50L322.70,394.13L324.00,394.74L325.31,395.32L326.61,395.89L327.91,396.44L329.21,396.97L330.52,397.49L331.82,397.99L333.12,398.48L334.42,398.95L335.73,399.40L337.03,399.85L338.33,400.27L339.64,400.69L340.94,401.10L342.24,401.49L343.54,401.87L344.85,402.24L346.15,402.60L347.45,402.94L348.75,403.28L350.06,403.61L351.36,403.93L352.66,404.24L353.97,404.53L355.27,404.82L356.57,405.11L357.87,405.38L359.18,405.64L360.48,405.90L361.78,406.15L363.08,406.39L364.39,406.62L365.69,406.84L366.99,407.06L368.30,407.27L369.60,407.47L370.90,407.67L372.20,407.86L373.51,408.04L374.81,408.21L376.11,408.38L377.42,408.55L378.72,408.70L380.02,408.86L381.32,409.00L382.63,409.14L383.93,409.28L385.23,409.41L386.53,409.53L387.84,409.65L389.14,409.77L390.44,409.88L391.75,409.98L393.05,410.08L394.35,410.18L395.65,410.27L396.96,410.36L398.26,410.44L399.56,410.52L400.86,410.60L402.17,410.68L403.47,410.75L404.77,410.81L406.08,410.88L407.38,410.94L408.68,411.00L409.98,411.05L411.29,411.10L412.59,411.15L413.89,411.20L415.20,411.25L416.50,411.29L417.80,411.33L419.10,411.37L420.41,411.41L421.71,411.44L423.01,411.47L424.31,411.51L425.62,411.53L426.92,411.56L428.22,411.59L429.53,411.61L430.83,411.64L432.13,411.66L433.43,411.68L434.74,411.70L436.04,411.72L437.34,411.74L438.64,411.75L439.95,411.77L441.25,411.78L442.55,411.80L443.86,411.81L445.16,411.82L446.46,411.83L447.76,411.85L449.07,411.86L450.37,411.87L451.67,411.87L452.98,411.88L454.28,411.89L455.58,411.90L456.88,411.91L458.19,411.91L459.49,411.92L460.79,411.92L462.09,411.93L463.40,411.93L464.70,411.94L466.00,411.94L467.31,411.95L468.61,411.95L469.91,411.95L471.21,411.96L472.52,411.96L473.82,411.96L475.12,411.97L476.42,411.97L477.73,411.97L479.03,411.97L480.33,411.97L481.64,411.98L482.94,411.98L484.24,411.98L485.54,411.98L486.85,411.98L488.15,411.98L489.45,411.99L490.76,411.99L492.06,411.99L493.36,411.99L494.66,411.99L495.97,411.99L497.27,411.99L498.57,411.99L499.87,411.99L501.18,411.99L502.48,411.99M242.80,309.30L243.46,310.99L244.11,312.60L244.77,314.14L245.42,315.63L246.08,317.05L246.73,318.43L247.39,319.77L248.05,321.07L248.70,322.33L249.36,323.57L250.01,324.78L250.67,325.97L251.32,327.15L251.98,328.30L252.64,329.44L253.29,330.57L253.95,331.68L254.60,332.79L255.26,333.89L255.92,334.98L256.57,336.06L257.23,337.14L257.88,338.21L258.54,339.28L259.19,340.34L259.85,341.40L260.51,342.45L261.16,343.50L261.82,344.54L262.47,345.58L263.13,346.61L263.78,347.64L264.44,348.66L265.10,349.68L265.75,350.69L266.41,351.69L267.06,352.69L267.72,353.68L268.37,354.67L269.03,355.64L269.69,356.61L270.34,357.57L271.00,358.52L271.65,359.46L272.31,360.40L272.96,361.32L273.62,362.23L274.28,363.14L274.93,364.03L275.59,364.91L276.24,365.78L276.90,366.64L277.56,367.49L278.21,368.33L278.87,369.15L279.52,369.97L280.18,370.77L280.83,371.56L281.49,372.34L282.15,373.11L282.80,373.86L283.46,374.60L284.11,375.33L284.77,376.05L285.42,376.76L286.08,377.45L286.74,378.13L287.39,378.80L288.05,379.45L288.70,380.10L289.36,380.73L290.01,381.35L290.67,381.96L291.33,382.56L291.98,383.15L292.64,383.72L293.29,384.28L293.95,384.84L294.60,385.38L295.26,385.91L295.92,386.43L296.57,386.93L297.23,387.43L297.88,387.92L298.54,388.40L299.20,388.87L299.85,389.32L300.51,389.77L301.16,390.21L301.82,390.64L302.47,391.06L303.13,391.47L303.79,391.87L304.44,392.27L305.10,392.65L305.75,393.03L306.41,393.40L307.06,393.76L307.72,394.12L308.37,394.46L309.67,395.13L310.97,395.77L312.28,396.38L313.58,396.96L314.88,397.53L316.19,398.07L317.49,398.58L318.79,399.08L320.09,399.56L321.40,400.01L322.70,400.45L324.00,400.87L325.31,401.28L326.61,401.67L327.91,402.05L329.21,402.41L330.52,402.76L331.82,403.09L333.12,403.42L334.42,403.73L335.73,404.03L337.03,404.32L338.33,404.60L339.64,404.87L340.94,405.13L342.24,405.39L343.54,405.63L344.85,405.87L346.15,406.10L347.45,406.32L348.75,406.53L350.06,406.74L351.36,406.94L352.66,407.13L353.97,407.31L355.27,407.50L356.57,407.67L357.87,407.84L359.18,408.00L360.48,408.16L361.78,408.31L363.08,408.46L364.39,408.60L365.69,408.74L366.99,408.87L368.30,409.00L369.60,409.13L370.90,409.25L372.20,409.36L373.51,409.47L374.81,409.58L376.11,409.68L377.42,409.78L378.72,409.88L380.02,409.97L381.32,410.06L382.63,410.15L383.93,410.23L385.23,410.31L386.53,410.39L387.84,410.46L389.14,410.53L390.44,410.60L391.75,410.67L393.05,410.73L394.35,410.79L395.65,410.85L396.96,410.90L398.26,410.96L399.56,411.01L400.86,411.06L402.17,411.10L403.47,411.15L404.77,411.19L406.08,411.23L407.38,411.27L408.68,411.31L409.98,411.34L411.29,411.38L412.59,411.41L413.89,411.44L415.20,411.47L416.50,411.50L417.80,411.52L419.10,411.55L420.41,411.57L421.71,411.60L423.01,411.62L424.31,411.64L425.62,411.66L426.92,411.68L428.22,411.70L429.53,411.71L430.83,411.73L432.13,411.74L433.43,411.76L434.74,411.77L436.04,411.79L437.34,411.80L438.64,411.81L439.95,411.82L441.25,411.83L442.55,411.84L443.86,411.85L445.16,411.86L446.46,411.87L447.76,411.88L449.07,411.88L450.37,411.89L451.67,411.90L452.98,411.90L454.28,411.91L455.58,411.91L456.88,411.92L458.19,411.93L459.49,411.93L460.79,411.93L462.09,411.94L463.40,411.94L464.70,411.95L466.00,411.95L467.31,411.95L468.61,411.96L469.91,411.96L471.21,411.96L472.52,411.96L473.82,411.97L475.12,411.97L476.42,411.97L477.73,411.97L479.03,411.97L480.33,411.98L481.64,411.98L482.94,411.98L484.24,411.98L485.54,411.98L486.85,411.98L488.15,411.98L489.45,411.99L490.76,411.99L492.06,411.99L493.36,411.99L494.66,411.99L495.97,411.99L497.27,411.99L498.57,411.99L499.87,411.99L501.18,411.99L502.48,411.99" stroke="#ff3c3c" stroke-width="1.4"/>
<path d="M242.80,309.30L243.46,306.58L244.11,303.79L244.77,300.97L245.42,298.14L246.08,295.34L246.73,292.57L247.39,289.88L248.05,287.26L248.70,284.73L249.36,282.31L250.01,280.01L250.67,277.82L251.32,275.77L251.98,273.85L252.64,272.06L253.29,270.41L253.95,268.90L254.60,267.53L255.26,266.29L255.92,265.19L256.57,264.23L257.23,263.40L257.88,262.70L258.54,262.13L259.19,261.67L259.85,261.34L260.51,261.13L261.16,261.02L261.82,261.02L262.47,261.13L263.13,261.33L263.78,261.62L264.44,262.01L265.10,262.48L265.75,263.03L266.41,263.66L267.06,264.37L267.72,265.14L268.37,265.97L269.03,266.87L269.69,267.82L270.34,268.83L271.00,269.89L271.65,270.99L272.31,272.14L272.96,273.32L273.62,274.54L274.28,275.80L274.93,277.09L275.59,278.41L276.24,279.75L276.90,281.11L277.56,282.50L278.21,283.90L278.87,285.32L279.52,286.75L280.18,288.20L280.83,289.66L281.49,291.12L282.15,292.60L282.80,294.07L283.46,295.56L284.11,297.04L284.77,298.53L285.42,300.01L286.08,301.50L286.74,302.98L287.39,304.46L288.05,305.93L288.70,307.40L289.36,308.86L290.01,310.32L290.67,311.77L291.33,313.21L291.98,314.64L292.64,316.06L293.29,317.47L293.95,318.87L294.60,320.26L295.26,321.64L295.92,323.01L296.57,324.36L297.23,325.70L297.88,327.03L298.54,328.35L299.20,329.65L299.85,330.94L300.51,332.21L301.16,333.47L301.82,334.72L302.47,335.95L303.13,337.17L303.79,338.38L304.44,339.57L305.10,340.74L305.75,341.90L306.41,343.05L307.06,344.18L307.72,345.30L308.37,346.39L309.67,348.54L310.97,350.63L312.28,352.67L313.58,354.65L314.88,356.57L316.19,358.44L317.49,360.26L318.79,362.02L320.09,363.73L321.40,365.39L322.70,367.01L324.00,368.57L325.31,370.08L326.61,371.55L327.91,372.98L329.21,374.35L330.52,375.69L331.82,376.98L333.12,378.23L334.42,379.44L335.73,380.62L337.03,381.75L338.33,382.85L339.64,383.91L340.94,384.93L342.24,385.92L343.54,386.88L344.85,387.81L346.15,388.70L347.45,389.56L348.75,390.40L350.06,391.20L351.36,391.98L352.66,392.73L353.97,393.46L355.27,394.15L356.57,394.83L357.87,395.48L359.18,396.11L360.48,396.71L361.78,397.30L363.08,397.86L364.39,398.40L365.69,398.92L366.99,399.43L368.30,399.91L369.60,400.38L370.90,400.83L372.20,401.27L373.51,401.68L374.81,402.09L376.11,402.47L377.42,402.85L378.72,403.21L380.02,403.55L381.32,403.88L382.63,404.20L383.93,404.51L385.23,404.81L386.53,405.09L387.84,405.37L389.14,405.63L390.44,405.88L391.75,406.13L393.05,406.36L394.35,406.59L395.65,406.80L396.96,407.01L398.26,407.21L399.56,407.40L400.86,407.59L402.17,407.77L403.47,407.94L404.77,408.10L406.08,408.26L407.38,408.41L408.68,408.55L409.98,408.69L411.29,408.83L412.59,408.96L413.89,409.08L415.20,409.20L416.50,409.31L417.80,409.42L419.10,409.53L420.41,409.63L421.71,409.72L423.01,409.82L424.31,409.90L425.62,409.99L426.92,410.07L428.22,410.15L429.53,410.23L430.83,410.30L432.13,410.37L433.43,410.43L434.74,410.50L436.04,410.56L437.34,410.62L438.64,410.67L439.95,410.73L441.25,410.78L442.55,410.83L443.86,410.88L445.16,410.92L446.46,410.97L447.76,411.01L449.07,411.05L450.37,411.09L451.67,411.13L452.98,411.16L454.28,411.20L455.58,411.23L456.88,411.26L458.19,411.29L459.49,411.32L460.79,411.35L462.09,411.37L463.40,411.40L464.70,411.42L466.00,411.45L467.31,411.47L468.61,411.49L469.91,411.51L471.21,411.53L472.52,411.55L473.82,411.57L475.12,411.59L476.42,411.60L477.73,411.62L479.03,411.63L480.33,411.65L481.64,411.66L482.94,411.68L484.24,411.69L485.54,411.70L486.85,411.71L488.15,411.73L489.45,411.74L490.76,411.75L492.06,411.76L493.36,411.77L494.66,411.78L495.97,411.79L497.27,411.79L498.57,411.80L499.87,411.81L501.18,411.82L502.48,411.82" stroke="#3030ff" stroke-width="1.6" stroke-dasharray="6.5,4.3" stroke-dashoffset="8.72"/>
<path d="M242.80,309.30L243.46,306.94L244.11,304.55L244.77,302.15L245.42,299.76L246.08,297.40L246.73,295.07L247.39,292.81L248.05,290.61L248.70,288.48L249.36,286.45L250.01,284.50L250.67,282.65L251.32,280.91L251.98,279.28L252.64,277.75L253.29,276.34L253.95,275.04L254.60,273.85L255.26,272.78L255.92,271.83L256.57,270.98L257.23,270.25L257.88,269.63L258.54,269.11L259.19,268.71L259.85,268.40L260.51,268.20L261.16,268.09L261.82,268.08L262.47,268.16L263.13,268.33L263.78,268.58L264.44,268.92L265.10,269.33L265.75,269.82L266.41,270.38L267.06,271.01L267.72,271.70L268.37,272.46L269.03,273.27L269.69,274.14L270.34,275.07L271.00,276.04L271.65,277.05L272.31,278.12L272.96,279.22L273.62,280.35L274.28,281.53L274.93,282.73L275.59,283.97L276.24,285.23L276.90,286.52L277.56,287.83L278.21,289.16L278.87,290.51L279.52,291.88L280.18,293.26L280.83,294.65L281.49,296.05L282.15,297.46L282.80,298.88L283.46,300.31L284.11,301.74L284.77,303.18L285.42,304.61L286.08,306.05L286.74,307.48L287.39,308.92L288.05,310.35L288.70,311.78L289.36,313.20L290.01,314.62L290.67,316.03L291.33,317.43L291.98,318.83L292.64,320.21L293.29,321.59L293.95,322.96L294.60,324.32L295.26,325.66L295.92,327.00L296.57,328.32L297.23,329.63L297.88,330.93L298.54,332.22L299.20,333.49L299.85,334.75L300.51,336.00L301.16,337.23L301.82,338.45L302.47,339.65L303.13,340.84L303.79,342.02L304.44,343.18L305.10,344.32L305.75,345.46L306.41,346.57L307.06,347.67L307.72,348.76L308.37,349.82L309.67,351.91L310.97,353.94L312.28,355.91L313.58,357.83L314.88,359.68L316.19,361.49L317.49,363.23L318.79,364.93L320.09,366.57L321.40,368.16L322.70,369.70L324.00,371.19L325.31,372.64L326.61,374.03L327.91,375.38L329.21,376.69L330.52,377.95L331.82,379.17L333.12,380.35L334.42,381.49L335.73,382.60L337.03,383.66L338.33,384.69L339.64,385.69L340.94,386.65L342.24,387.57L343.54,388.47L344.85,389.33L346.15,390.17L347.45,390.97L348.75,391.75L350.06,392.50L351.36,393.23L352.66,393.93L353.97,394.60L355.27,395.25L356.57,395.88L357.87,396.49L359.18,397.07L360.48,397.63L361.78,398.18L363.08,398.70L364.39,399.21L365.69,399.70L366.99,400.17L368.30,400.62L369.60,401.06L370.90,401.48L372.20,401.88L373.51,402.27L374.81,402.65L376.11,403.02L377.42,403.37L378.72,403.70L380.02,404.03L381.32,404.34L382.63,404.64L383.93,404.93L385.23,405.21L386.53,405.48L387.84,405.74L389.14,405.99L390.44,406.23L391.75,406.46L393.05,406.68L394.35,406.90L395.65,407.10L396.96,407.30L398.26,407.49L399.56,407.67L400.86,407.85L402.17,408.02L403.47,408.18L404.77,408.34L406.08,408.49L407.38,408.63L408.68,408.77L409.98,408.91L411.29,409.03L412.59,409.16L413.89,409.28L415.20,409.39L416.50,409.50L417.80,409.60L419.10,409.70L420.41,409.80L421.71,409.89L423.01,409.98L424.31,410.07L425.62,410.15L426.92,410.23L428.22,410.30L429.53,410.38L430.83,410.45L432.13,410.51L433.43,410.58L434.74,410.64L436.04,410.70L437.34,410.75L438.64,410.81L439.95,410.86L441.25,410.91L442.55,410.96L443.86,411.00L445.16,411.05L446.46,411.09L447.76,411.13L449.07,411.17L450.37,411.20L451.67,411.24L452.98,411.27L454.28,411.30L455.58,411.33L456.88,411.36L458.19,411.39L459.49,411.42L460.79,411.45L462.09,411.47L463.40,411.49L464.70,411.52L466.00,411.54L467.31,411.56L468.61,411.58L469.91,411.60L471.21,411.62L472.52,411.63L473.82,411.65L475.12,411.67L476.42,411.68L477.73,411.70L479.03,411.71L480.33,411.72L481.64,411.74L482.94,411.75L484.24,411.76L485.54,411.77L486.85,411.78L488.15,411.79L489.45,411.80L490.76,411.81L492.06,411.82L493.36,411.83L494.66,411.83L495.97,411.84L497.27,411.85L498.57,411.86L499.87,411.86L501.18,411.87L502.48,411.88" stroke="#3030ff" stroke-width="1.6" stroke-dasharray="6.5,4.3" stroke-dashoffset="8.49"/>
<path d="M242.80,309.30L243.46,307.16L244.11,305.03L244.77,302.94L245.42,300.89L246.08,298.89L246.73,296.94L247.39,295.07L248.05,293.26L248.70,291.54L249.36,289.89L250.01,288.33L250.67,286.86L251.32,285.48L251.98,284.19L252.64,283.00L253.29,281.90L253.95,280.90L254.60,279.99L255.26,279.17L255.92,278.46L256.57,277.83L257.23,277.30L257.88,276.85L258.54,276.50L259.19,276.23L259.85,276.05L260.51,275.95L261.16,275.93L261.82,275.99L262.47,276.13L263.13,276.34L263.78,276.62L264.44,276.98L265.10,277.39L265.75,277.87L266.41,278.42L267.06,279.02L267.72,279.67L268.37,280.38L269.03,281.14L269.69,281.95L270.34,282.81L271.00,283.70L271.65,284.64L272.31,285.62L272.96,286.63L273.62,287.68L274.28,288.76L274.93,289.87L275.59,291.01L276.24,292.17L276.90,293.36L277.56,294.56L278.21,295.79L278.87,297.04L279.52,298.30L280.18,299.57L280.83,300.86L281.49,302.16L282.15,303.47L282.80,304.79L283.46,306.12L284.11,307.45L284.77,308.78L285.42,310.12L286.08,311.46L286.74,312.80L287.39,314.15L288.05,315.49L288.70,316.83L289.36,318.16L290.01,319.49L290.67,320.82L291.33,322.15L291.98,323.46L292.64,324.77L293.29,326.07L293.95,327.37L294.60,328.65L295.26,329.93L295.92,331.20L296.57,332.45L297.23,333.70L297.88,334.93L298.54,336.16L299.20,337.37L299.85,338.57L300.51,339.76L301.16,340.94L301.82,342.10L302.47,343.25L303.13,344.39L303.79,345.51L304.44,346.62L305.10,347.72L305.75,348.81L306.41,349.88L307.06,350.93L307.72,351.97L308.37,352.99L309.67,355.00L310.97,356.94L312.28,358.84L313.58,360.68L314.88,362.46L316.19,364.19L317.49,365.87L318.79,367.50L320.09,369.08L321.40,370.60L322.70,372.08L324.00,373.51L325.31,374.89L326.61,376.22L327.91,377.52L329.21,378.76L330.52,379.97L331.82,381.13L333.12,382.26L334.42,383.34L335.73,384.39L337.03,385.40L338.33,386.38L339.64,387.32L340.94,388.23L342.24,389.10L343.54,389.95L344.85,390.77L346.15,391.55L347.45,392.31L348.75,393.04L350.06,393.75L351.36,394.43L352.66,395.08L353.97,395.72L355.27,396.32L356.57,396.91L357.87,397.48L359.18,398.03L360.48,398.55L361.78,399.06L363.08,399.55L364.39,400.02L365.69,400.47L366.99,400.91L368.30,401.33L369.60,401.74L370.90,402.13L372.20,402.51L373.51,402.88L374.81,403.23L376.11,403.56L377.42,403.89L378.72,404.20L380.02,404.51L381.32,404.80L382.63,405.08L383.93,405.35L385.23,405.61L386.53,405.86L387.84,406.10L389.14,406.34L390.44,406.56L391.75,406.78L393.05,406.98L394.35,407.18L395.65,407.38L396.96,407.56L398.26,407.74L399.56,407.91L400.86,408.08L402.17,408.24L403.47,408.39L404.77,408.54L406.08,408.68L407.38,408.82L408.68,408.95L409.98,409.07L411.29,409.19L412.59,409.31L413.89,409.42L415.20,409.53L416.50,409.63L417.80,409.73L419.10,409.83L420.41,409.92L421.71,410.01L423.01,410.09L424.31,410.17L425.62,410.25L426.92,410.33L428.22,410.40L429.53,410.47L430.83,410.54L432.13,410.60L433.43,410.66L434.74,410.72L436.04,410.77L437.34,410.83L438.64,410.88L439.95,410.93L441.25,410.98L442.55,411.02L443.86,411.07L445.16,411.11L446.46,411.15L447.76,411.19L449.07,411.22L450.37,411.26L451.67,411.29L452.98,411.32L454.28,411.36L455.58,411.38L456.88,411.41L458.19,411.44L459.49,411.47L460.79,411.49L462.09,411.51L463.40,411.54L464.70,411.56L466.00,411.58L467.31,411.60L468.61,411.62L469.91,411.64L471.21,411.65L472.52,411.67L473.82,411.69L475.12,411.70L476.42,411.71L477.73,411.73L479.03,411.74L480.33,411.75L481.64,411.77L482.94,411.78L484.24,411.79L485.54,411.80L486.85,411.81L488.15,411.82L489.45,411.83L490.76,411.83L492.06,411.84L493.36,411.85L494.66,411.86L495.97,411.87L497.27,411.87L498.57,411.88L499.87,411.88L501.18,411.89L502.48,411.90" stroke="#3030ff" stroke-width="1.6" stroke-dasharray="6.5,4.3" stroke-dashoffset="0.56"/>
<path d="M242.80,309.30L243.46,307.11L244.11,305.02L244.77,303.01L245.42,301.10L246.08,299.29L246.73,297.57L247.39,295.95L248.05,294.42L248.70,292.98L249.36,291.64L250.01,290.39L250.67,289.23L251.32,288.17L251.98,287.19L252.64,286.31L253.29,285.51L253.95,284.80L254.60,284.17L255.26,283.62L255.92,283.16L256.57,282.77L257.23,282.47L257.88,282.23L258.54,282.08L259.19,281.99L259.85,281.98L260.51,282.03L261.16,282.15L261.82,282.33L262.47,282.57L263.13,282.88L263.78,283.24L264.44,283.66L265.10,284.13L265.75,284.65L266.41,285.23L267.06,285.85L267.72,286.51L268.37,287.22L269.03,287.97L269.69,288.77L270.34,289.59L271.00,290.46L271.65,291.36L272.31,292.29L272.96,293.25L273.62,294.24L274.28,295.26L274.93,296.31L275.59,297.37L276.24,298.46L276.90,299.57L277.56,300.70L278.21,301.85L278.87,303.01L279.52,304.19L280.18,305.38L280.83,306.59L281.49,307.80L282.15,309.02L282.80,310.26L283.46,311.50L284.11,312.74L284.77,313.99L285.42,315.25L286.08,316.50L286.74,317.76L287.39,319.02L288.05,320.29L288.70,321.55L289.36,322.80L290.01,324.06L290.67,325.31L291.33,326.56L291.98,327.81L292.64,329.05L293.29,330.28L293.95,331.51L294.60,332.73L295.26,333.94L295.92,335.14L296.57,336.34L297.23,337.53L297.88,338.71L298.54,339.88L299.20,341.03L299.85,342.18L300.51,343.32L301.16,344.44L301.82,345.56L302.47,346.66L303.13,347.75L303.79,348.83L304.44,349.90L305.10,350.95L305.75,352.00L306.41,353.03L307.06,354.04L307.72,355.05L308.37,356.03L309.67,357.96L310.97,359.83L312.28,361.66L313.58,363.43L314.88,365.15L316.19,366.82L317.49,368.44L318.79,370.01L320.09,371.53L321.40,372.99L322.70,374.41L324.00,375.78L325.31,377.11L326.61,378.39L327.91,379.62L329.21,380.82L330.52,381.97L331.82,383.07L333.12,384.14L334.42,385.17L335.73,386.17L337.03,387.12L338.33,388.04L339.64,388.93L340.94,389.79L342.24,390.61L343.54,391.40L344.85,392.17L346.15,392.90L347.45,393.61L348.75,394.29L350.06,394.95L351.36,395.58L352.66,396.19L353.97,396.78L355.27,397.34L356.57,397.89L357.87,398.41L359.18,398.92L360.48,399.40L361.78,399.87L363.08,400.32L364.39,400.76L365.69,401.18L366.99,401.59L368.30,401.98L369.60,402.35L370.90,402.72L372.20,403.07L373.51,403.40L374.81,403.73L376.11,404.04L377.42,404.35L378.72,404.64L380.02,404.92L381.32,405.20L382.63,405.46L383.93,405.71L385.23,405.96L386.53,406.19L387.84,406.42L389.14,406.64L390.44,406.85L391.75,407.06L393.05,407.26L394.35,407.45L395.65,407.63L396.96,407.81L398.26,407.98L399.56,408.14L400.86,408.30L402.17,408.46L403.47,408.60L404.77,408.75L406.08,408.88L407.38,409.01L408.68,409.14L409.98,409.26L411.29,409.38L412.59,409.50L413.89,409.61L415.20,409.71L416.50,409.81L417.80,409.91L419.10,410.00L420.41,410.09L421.71,410.18L423.01,410.26L424.31,410.34L425.62,410.42L426.92,410.49L428.22,410.56L429.53,410.63L430.83,410.69L432.13,410.76L433.43,410.82L434.74,410.87L436.04,410.93L437.34,410.98L438.64,411.03L439.95,411.08L441.25,411.12L442.55,411.17L443.86,411.21L445.16,411.25L446.46,411.29L447.76,411.32L449.07,411.36L450.37,411.39L451.67,411.42L452.98,411.45L454.28,411.48L455.58,411.51L456.88,411.54L458.19,411.56L459.49,411.58L460.79,411.61L462.09,411.63L463.40,411.65L464.70,411.67L466.00,411.69L467.31,411.70L468.61,411.72L469.91,411.74L471.21,411.75L472.52,411.77L473.82,411.78L475.12,411.79L476.42,411.80L477.73,411.81L479.03,411.83L480.33,411.84L481.64,411.85L482.94,411.85L484.24,411.86L485.54,411.87L486.85,411.88L488.15,411.89L489.45,411.89L490.76,411.90L492.06,411.91L493.36,411.91L494.66,411.92L495.97,411.92L497.27,411.93L498.57,411.93L499.87,411.94L501.18,411.94L502.48,411.94" stroke="#3030ff" stroke-width="1.6" stroke-dasharray="6.5,4.3" stroke-dashoffset="10.71"/>
</g>
<line x1="319.1" y1="334" x2="269.70" y2="375.26" stroke="#3a3a3a" stroke-width="1.0"/>
<path d="M260.8,382.7L268.48,370.68L269.32,375.58L273.99,377.28Z" fill="#111"/>
<text x="372.30" y="461.60" text-anchor="middle" class="al">(<tspan font-style="italic">η</tspan>)</text>
<text transform="translate(203.00,336.75) rotate(-90)" text-anchor="middle" class="al"><tspan font-style="italic">h</tspan><tspan font-size="10" dy="3">0</tspan><tspan dy="-3">(</tspan><tspan font-style="italic">η</tspan>)</text>
<text transform="translate(313.85,287.00) scale(1,1.085)" text-anchor="middle" class="pl">(c)</text>
<rect x="362.5" y="259.6" width="141.00" height="51.80" fill="#fff" stroke="#222" stroke-width="1.1"/>
<line x1="368" y1="272.9" x2="378.2" y2="272.9" stroke="#ff3c3c" stroke-width="1.2"/>
<path d="M368,297.5h4.9M374.1,297.5h1.9M377.1,297.5h1" stroke="#3030ff" stroke-width="1.3"/>
<text x="407.8" y="277.20" class="lg">First Solution</text>
<text x="407.8" y="301.80" class="lg">Second Solution</text>
<text x="365.6" y="359.1" class="nt">Sc</text>
<text x="382.4" y="359.1" class="nt">=</text>
<text x="392.6" y="359.1" class="nt">0.1,</text>
<text x="417.2" y="359.1" class="nt">0.4,</text>
<text x="442.7" y="359.1" class="nt">0.7,</text>
<text x="467.3" y="359.1" class="nt">1.0</text>
</svg>
</body></html>
